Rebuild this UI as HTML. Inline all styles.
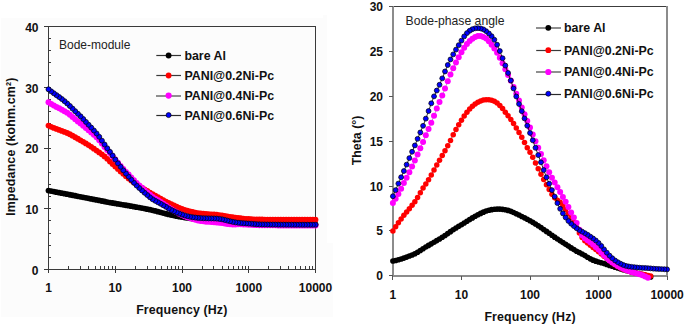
<!DOCTYPE html>
<html><head><meta charset="utf-8"><style>
html,body{margin:0;padding:0;background:#fff;}
body{width:685px;height:325px;overflow:hidden;}
svg{display:block;}
</style></head><body>
<svg width="685" height="325" viewBox="0 0 685 325">
<rect x="0" y="0" width="685" height="325" fill="#fff"/>
<path d="M1,18 H323 V15 H327 V243 H333 V317 H1 Z" fill="#fcfcfc"/>
<g shape-rendering="crispEdges" stroke="#3a3a3a" stroke-width="1" fill="none">
<rect x="48.5" y="26.5" width="267" height="243"/>
<line x1="44" y1="269.5" x2="51" y2="269.5"/>
<line x1="44" y1="208.5" x2="51" y2="208.5"/>
<line x1="44" y1="148.5" x2="51" y2="148.5"/>
<line x1="44" y1="87.5" x2="51" y2="87.5"/>
<line x1="44" y1="26.5" x2="51" y2="26.5"/>
<line x1="48" y1="257.5" x2="51" y2="257.5"/>
<line x1="48" y1="245.5" x2="51" y2="245.5"/>
<line x1="48" y1="233.5" x2="51" y2="233.5"/>
<line x1="48" y1="220.5" x2="51" y2="220.5"/>
<line x1="48" y1="196.5" x2="51" y2="196.5"/>
<line x1="48" y1="184.5" x2="51" y2="184.5"/>
<line x1="48" y1="172.5" x2="51" y2="172.5"/>
<line x1="48" y1="160.5" x2="51" y2="160.5"/>
<line x1="48" y1="135.5" x2="51" y2="135.5"/>
<line x1="48" y1="123.5" x2="51" y2="123.5"/>
<line x1="48" y1="111.5" x2="51" y2="111.5"/>
<line x1="48" y1="99.5" x2="51" y2="99.5"/>
<line x1="48" y1="75.5" x2="51" y2="75.5"/>
<line x1="48" y1="62.5" x2="51" y2="62.5"/>
<line x1="48" y1="50.5" x2="51" y2="50.5"/>
<line x1="48" y1="38.5" x2="51" y2="38.5"/>
<line x1="48.5" y1="266" x2="48.5" y2="273"/>
<line x1="68.5" y1="266" x2="68.5" y2="269"/>
<line x1="80.5" y1="266" x2="80.5" y2="269"/>
<line x1="88.5" y1="266" x2="88.5" y2="269"/>
<line x1="95.5" y1="266" x2="95.5" y2="269"/>
<line x1="100.5" y1="266" x2="100.5" y2="269"/>
<line x1="104.5" y1="266" x2="104.5" y2="269"/>
<line x1="108.5" y1="266" x2="108.5" y2="269"/>
<line x1="112.5" y1="266" x2="112.5" y2="269"/>
<line x1="115.5" y1="266" x2="115.5" y2="273"/>
<line x1="135.5" y1="266" x2="135.5" y2="269"/>
<line x1="147.5" y1="266" x2="147.5" y2="269"/>
<line x1="155.5" y1="266" x2="155.5" y2="269"/>
<line x1="161.5" y1="266" x2="161.5" y2="269"/>
<line x1="167.5" y1="266" x2="167.5" y2="269"/>
<line x1="171.5" y1="266" x2="171.5" y2="269"/>
<line x1="175.5" y1="266" x2="175.5" y2="269"/>
<line x1="178.5" y1="266" x2="178.5" y2="269"/>
<line x1="182.5" y1="266" x2="182.5" y2="273"/>
<line x1="202.5" y1="266" x2="202.5" y2="269"/>
<line x1="213.5" y1="266" x2="213.5" y2="269"/>
<line x1="222.5" y1="266" x2="222.5" y2="269"/>
<line x1="228.5" y1="266" x2="228.5" y2="269"/>
<line x1="233.5" y1="266" x2="233.5" y2="269"/>
<line x1="238.5" y1="266" x2="238.5" y2="269"/>
<line x1="242.5" y1="266" x2="242.5" y2="269"/>
<line x1="245.5" y1="266" x2="245.5" y2="269"/>
<line x1="248.5" y1="266" x2="248.5" y2="273"/>
<line x1="268.5" y1="266" x2="268.5" y2="269"/>
<line x1="280.5" y1="266" x2="280.5" y2="269"/>
<line x1="288.5" y1="266" x2="288.5" y2="269"/>
<line x1="295.5" y1="266" x2="295.5" y2="269"/>
<line x1="300.5" y1="266" x2="300.5" y2="269"/>
<line x1="305.5" y1="266" x2="305.5" y2="269"/>
<line x1="309.5" y1="266" x2="309.5" y2="269"/>
<line x1="312.5" y1="266" x2="312.5" y2="269"/>
<line x1="315.5" y1="266" x2="315.5" y2="273"/>
</g>
<clipPath id="cl"><rect x="44" y="20" width="280" height="252"/></clipPath>
<g>
<path d="M48.50,190.56 L51.17,191.08 L53.84,191.61 L56.51,192.13 L59.18,192.66 L61.85,193.18 L64.52,193.70 L67.19,194.22 L69.86,194.74 L72.53,195.25 L75.20,195.77 L77.87,196.29 L80.54,196.81 L83.21,197.32 L85.88,197.84 L88.55,198.36 L91.22,198.89 L93.89,199.41 L96.56,199.93 L99.23,200.46 L101.90,200.99 L104.57,201.51 L107.24,202.03 L109.91,202.53 L112.58,203.01 L115.25,203.47 L117.92,203.92 L120.59,204.36 L123.26,204.80 L125.93,205.26 L128.60,205.72 L131.27,206.18 L133.94,206.65 L136.61,207.13 L139.28,207.62 L141.95,208.11 L144.62,208.62 L147.29,209.13 L149.96,209.68 L152.63,210.28 L155.30,210.95 L157.97,211.65 L160.64,212.36 L163.31,213.05 L165.98,213.73 L168.65,214.39 L171.32,215.02 L173.99,215.60 L176.66,216.13 L179.33,216.64 L182.00,217.10 L184.67,217.53 L187.34,217.92 L190.01,218.30 L192.68,218.65 L195.35,218.98 L198.02,219.28 L200.69,219.57 L203.36,219.84 L206.03,220.10 L208.70,220.35 L211.37,220.59 L214.04,220.82 L216.71,221.04 L219.38,221.25 L222.05,221.46 L224.72,221.65 L227.39,221.83 L230.06,222.00 L232.73,222.17 L235.40,222.34 L238.07,222.50 L240.74,222.66 L243.41,222.81 L246.08,222.95 L248.75,223.09 L251.42,223.21 L254.09,223.32 L256.76,223.41 L259.43,223.48 L262.10,223.55 L264.77,223.61 L267.44,223.67 L270.11,223.72 L272.78,223.78 L275.45,223.83 L278.12,223.88 L280.79,223.93 L283.46,223.98 L286.13,224.02 L288.80,224.06 L291.47,224.10 L294.14,224.14 L296.81,224.17 L299.48,224.20 L302.15,224.22 L304.82,224.25 L307.49,224.27 L310.16,224.28 L312.83,224.29 L315.50,224.30" fill="none" stroke="#000" stroke-width="0.8"/>
<circle cx="315.50" cy="224.30" r="2.9" fill="#000"/>
<circle cx="312.83" cy="224.29" r="2.9" fill="#000"/>
<circle cx="310.16" cy="224.28" r="2.9" fill="#000"/>
<circle cx="307.49" cy="224.27" r="2.9" fill="#000"/>
<circle cx="304.82" cy="224.25" r="2.9" fill="#000"/>
<circle cx="302.15" cy="224.22" r="2.9" fill="#000"/>
<circle cx="299.48" cy="224.20" r="2.9" fill="#000"/>
<circle cx="296.81" cy="224.17" r="2.9" fill="#000"/>
<circle cx="294.14" cy="224.14" r="2.9" fill="#000"/>
<circle cx="291.47" cy="224.10" r="2.9" fill="#000"/>
<circle cx="288.80" cy="224.06" r="2.9" fill="#000"/>
<circle cx="286.13" cy="224.02" r="2.9" fill="#000"/>
<circle cx="283.46" cy="223.98" r="2.9" fill="#000"/>
<circle cx="280.79" cy="223.93" r="2.9" fill="#000"/>
<circle cx="278.12" cy="223.88" r="2.9" fill="#000"/>
<circle cx="275.45" cy="223.83" r="2.9" fill="#000"/>
<circle cx="272.78" cy="223.78" r="2.9" fill="#000"/>
<circle cx="270.11" cy="223.72" r="2.9" fill="#000"/>
<circle cx="267.44" cy="223.67" r="2.9" fill="#000"/>
<circle cx="264.77" cy="223.61" r="2.9" fill="#000"/>
<circle cx="262.10" cy="223.55" r="2.9" fill="#000"/>
<circle cx="259.43" cy="223.48" r="2.9" fill="#000"/>
<circle cx="256.76" cy="223.41" r="2.9" fill="#000"/>
<circle cx="254.09" cy="223.32" r="2.9" fill="#000"/>
<circle cx="251.42" cy="223.21" r="2.9" fill="#000"/>
<circle cx="248.75" cy="223.09" r="2.9" fill="#000"/>
<circle cx="246.08" cy="222.95" r="2.9" fill="#000"/>
<circle cx="243.41" cy="222.81" r="2.9" fill="#000"/>
<circle cx="240.74" cy="222.66" r="2.9" fill="#000"/>
<circle cx="238.07" cy="222.50" r="2.9" fill="#000"/>
<circle cx="235.40" cy="222.34" r="2.9" fill="#000"/>
<circle cx="232.73" cy="222.17" r="2.9" fill="#000"/>
<circle cx="230.06" cy="222.00" r="2.9" fill="#000"/>
<circle cx="227.39" cy="221.83" r="2.9" fill="#000"/>
<circle cx="224.72" cy="221.65" r="2.9" fill="#000"/>
<circle cx="222.05" cy="221.46" r="2.9" fill="#000"/>
<circle cx="219.38" cy="221.25" r="2.9" fill="#000"/>
<circle cx="216.71" cy="221.04" r="2.9" fill="#000"/>
<circle cx="214.04" cy="220.82" r="2.9" fill="#000"/>
<circle cx="211.37" cy="220.59" r="2.9" fill="#000"/>
<circle cx="208.70" cy="220.35" r="2.9" fill="#000"/>
<circle cx="206.03" cy="220.10" r="2.9" fill="#000"/>
<circle cx="203.36" cy="219.84" r="2.9" fill="#000"/>
<circle cx="200.69" cy="219.57" r="2.9" fill="#000"/>
<circle cx="198.02" cy="219.28" r="2.9" fill="#000"/>
<circle cx="195.35" cy="218.98" r="2.9" fill="#000"/>
<circle cx="192.68" cy="218.65" r="2.9" fill="#000"/>
<circle cx="190.01" cy="218.30" r="2.9" fill="#000"/>
<circle cx="187.34" cy="217.92" r="2.9" fill="#000"/>
<circle cx="184.67" cy="217.53" r="2.9" fill="#000"/>
<circle cx="182.00" cy="217.10" r="2.9" fill="#000"/>
<circle cx="179.33" cy="216.64" r="2.9" fill="#000"/>
<circle cx="176.66" cy="216.13" r="2.9" fill="#000"/>
<circle cx="173.99" cy="215.60" r="2.9" fill="#000"/>
<circle cx="171.32" cy="215.02" r="2.9" fill="#000"/>
<circle cx="168.65" cy="214.39" r="2.9" fill="#000"/>
<circle cx="165.98" cy="213.73" r="2.9" fill="#000"/>
<circle cx="163.31" cy="213.05" r="2.9" fill="#000"/>
<circle cx="160.64" cy="212.36" r="2.9" fill="#000"/>
<circle cx="157.97" cy="211.65" r="2.9" fill="#000"/>
<circle cx="155.30" cy="210.95" r="2.9" fill="#000"/>
<circle cx="152.63" cy="210.28" r="2.9" fill="#000"/>
<circle cx="149.96" cy="209.68" r="2.9" fill="#000"/>
<circle cx="147.29" cy="209.13" r="2.9" fill="#000"/>
<circle cx="144.62" cy="208.62" r="2.9" fill="#000"/>
<circle cx="141.95" cy="208.11" r="2.9" fill="#000"/>
<circle cx="139.28" cy="207.62" r="2.9" fill="#000"/>
<circle cx="136.61" cy="207.13" r="2.9" fill="#000"/>
<circle cx="133.94" cy="206.65" r="2.9" fill="#000"/>
<circle cx="131.27" cy="206.18" r="2.9" fill="#000"/>
<circle cx="128.60" cy="205.72" r="2.9" fill="#000"/>
<circle cx="125.93" cy="205.26" r="2.9" fill="#000"/>
<circle cx="123.26" cy="204.80" r="2.9" fill="#000"/>
<circle cx="120.59" cy="204.36" r="2.9" fill="#000"/>
<circle cx="117.92" cy="203.92" r="2.9" fill="#000"/>
<circle cx="115.25" cy="203.47" r="2.9" fill="#000"/>
<circle cx="112.58" cy="203.01" r="2.9" fill="#000"/>
<circle cx="109.91" cy="202.53" r="2.9" fill="#000"/>
<circle cx="107.24" cy="202.03" r="2.9" fill="#000"/>
<circle cx="104.57" cy="201.51" r="2.9" fill="#000"/>
<circle cx="101.90" cy="200.99" r="2.9" fill="#000"/>
<circle cx="99.23" cy="200.46" r="2.9" fill="#000"/>
<circle cx="96.56" cy="199.93" r="2.9" fill="#000"/>
<circle cx="93.89" cy="199.41" r="2.9" fill="#000"/>
<circle cx="91.22" cy="198.89" r="2.9" fill="#000"/>
<circle cx="88.55" cy="198.36" r="2.9" fill="#000"/>
<circle cx="85.88" cy="197.84" r="2.9" fill="#000"/>
<circle cx="83.21" cy="197.32" r="2.9" fill="#000"/>
<circle cx="80.54" cy="196.81" r="2.9" fill="#000"/>
<circle cx="77.87" cy="196.29" r="2.9" fill="#000"/>
<circle cx="75.20" cy="195.77" r="2.9" fill="#000"/>
<circle cx="72.53" cy="195.25" r="2.9" fill="#000"/>
<circle cx="69.86" cy="194.74" r="2.9" fill="#000"/>
<circle cx="67.19" cy="194.22" r="2.9" fill="#000"/>
<circle cx="64.52" cy="193.70" r="2.9" fill="#000"/>
<circle cx="61.85" cy="193.18" r="2.9" fill="#000"/>
<circle cx="59.18" cy="192.66" r="2.9" fill="#000"/>
<circle cx="56.51" cy="192.13" r="2.9" fill="#000"/>
<circle cx="53.84" cy="191.61" r="2.9" fill="#000"/>
<circle cx="51.17" cy="191.08" r="2.9" fill="#000"/>
<circle cx="48.50" cy="190.56" r="2.9" fill="#000"/>
<path d="M48.50,125.59 L51.17,126.80 L53.84,127.92 L56.51,128.94 L59.18,129.92 L61.85,130.94 L64.52,131.97 L67.19,133.01 L69.86,134.24 L72.53,135.71 L75.20,137.24 L77.87,138.75 L80.54,140.28 L83.21,141.84 L85.88,143.44 L88.55,145.09 L91.22,146.82 L93.89,148.66 L96.56,150.55 L99.23,152.41 L101.90,154.28 L104.57,156.38 L107.24,158.85 L109.91,161.53 L112.58,164.10 L115.25,166.53 L117.92,168.95 L120.59,171.40 L123.26,173.79 L125.93,176.14 L128.60,178.45 L131.27,180.60 L133.94,182.56 L136.61,184.34 L139.28,185.98 L141.95,187.60 L144.62,189.29 L147.29,191.00 L149.96,192.66 L152.63,194.22 L155.30,195.73 L157.97,197.21 L160.64,198.71 L163.31,200.18 L165.98,201.60 L168.65,202.95 L171.32,204.22 L173.99,205.43 L176.66,206.61 L179.33,207.80 L182.00,208.93 L184.67,209.89 L187.34,210.69 L190.01,211.39 L192.68,212.01 L195.35,212.57 L198.02,213.05 L200.69,213.41 L203.36,213.68 L206.03,213.89 L208.70,214.08 L211.37,214.28 L214.04,214.49 L216.71,214.76 L219.38,215.11 L222.05,215.51 L224.72,215.95 L227.39,216.38 L230.06,216.79 L232.73,217.17 L235.40,217.54 L238.07,217.91 L240.74,218.25 L243.41,218.54 L246.08,218.78 L248.75,218.98 L251.42,219.15 L254.09,219.30 L256.76,219.42 L259.43,219.48 L262.10,219.52 L264.77,219.54 L267.44,219.55 L270.11,219.57 L272.78,219.59 L275.45,219.60 L278.12,219.61 L280.79,219.63 L283.46,219.64 L286.13,219.65 L288.80,219.66 L291.47,219.66 L294.14,219.67 L296.81,219.68 L299.48,219.68 L302.15,219.69 L304.82,219.69 L307.49,219.69 L310.16,219.70 L312.83,219.70 L315.50,219.70" fill="none" stroke="#ff0000" stroke-width="0.8"/>
<circle cx="315.50" cy="219.70" r="2.9" fill="#ff0000"/>
<circle cx="312.83" cy="219.70" r="2.9" fill="#ff0000"/>
<circle cx="310.16" cy="219.70" r="2.9" fill="#ff0000"/>
<circle cx="307.49" cy="219.69" r="2.9" fill="#ff0000"/>
<circle cx="304.82" cy="219.69" r="2.9" fill="#ff0000"/>
<circle cx="302.15" cy="219.69" r="2.9" fill="#ff0000"/>
<circle cx="299.48" cy="219.68" r="2.9" fill="#ff0000"/>
<circle cx="296.81" cy="219.68" r="2.9" fill="#ff0000"/>
<circle cx="294.14" cy="219.67" r="2.9" fill="#ff0000"/>
<circle cx="291.47" cy="219.66" r="2.9" fill="#ff0000"/>
<circle cx="288.80" cy="219.66" r="2.9" fill="#ff0000"/>
<circle cx="286.13" cy="219.65" r="2.9" fill="#ff0000"/>
<circle cx="283.46" cy="219.64" r="2.9" fill="#ff0000"/>
<circle cx="280.79" cy="219.63" r="2.9" fill="#ff0000"/>
<circle cx="278.12" cy="219.61" r="2.9" fill="#ff0000"/>
<circle cx="275.45" cy="219.60" r="2.9" fill="#ff0000"/>
<circle cx="272.78" cy="219.59" r="2.9" fill="#ff0000"/>
<circle cx="270.11" cy="219.57" r="2.9" fill="#ff0000"/>
<circle cx="267.44" cy="219.55" r="2.9" fill="#ff0000"/>
<circle cx="264.77" cy="219.54" r="2.9" fill="#ff0000"/>
<circle cx="262.10" cy="219.52" r="2.9" fill="#ff0000"/>
<circle cx="259.43" cy="219.48" r="2.9" fill="#ff0000"/>
<circle cx="256.76" cy="219.42" r="2.9" fill="#ff0000"/>
<circle cx="254.09" cy="219.30" r="2.9" fill="#ff0000"/>
<circle cx="251.42" cy="219.15" r="2.9" fill="#ff0000"/>
<circle cx="248.75" cy="218.98" r="2.9" fill="#ff0000"/>
<circle cx="246.08" cy="218.78" r="2.9" fill="#ff0000"/>
<circle cx="243.41" cy="218.54" r="2.9" fill="#ff0000"/>
<circle cx="240.74" cy="218.25" r="2.9" fill="#ff0000"/>
<circle cx="238.07" cy="217.91" r="2.9" fill="#ff0000"/>
<circle cx="235.40" cy="217.54" r="2.9" fill="#ff0000"/>
<circle cx="232.73" cy="217.17" r="2.9" fill="#ff0000"/>
<circle cx="230.06" cy="216.79" r="2.9" fill="#ff0000"/>
<circle cx="227.39" cy="216.38" r="2.9" fill="#ff0000"/>
<circle cx="224.72" cy="215.95" r="2.9" fill="#ff0000"/>
<circle cx="222.05" cy="215.51" r="2.9" fill="#ff0000"/>
<circle cx="219.38" cy="215.11" r="2.9" fill="#ff0000"/>
<circle cx="216.71" cy="214.76" r="2.9" fill="#ff0000"/>
<circle cx="214.04" cy="214.49" r="2.9" fill="#ff0000"/>
<circle cx="211.37" cy="214.28" r="2.9" fill="#ff0000"/>
<circle cx="208.70" cy="214.08" r="2.9" fill="#ff0000"/>
<circle cx="206.03" cy="213.89" r="2.9" fill="#ff0000"/>
<circle cx="203.36" cy="213.68" r="2.9" fill="#ff0000"/>
<circle cx="200.69" cy="213.41" r="2.9" fill="#ff0000"/>
<circle cx="198.02" cy="213.05" r="2.9" fill="#ff0000"/>
<circle cx="195.35" cy="212.57" r="2.9" fill="#ff0000"/>
<circle cx="192.68" cy="212.01" r="2.9" fill="#ff0000"/>
<circle cx="190.01" cy="211.39" r="2.9" fill="#ff0000"/>
<circle cx="187.34" cy="210.69" r="2.9" fill="#ff0000"/>
<circle cx="184.67" cy="209.89" r="2.9" fill="#ff0000"/>
<circle cx="182.00" cy="208.93" r="2.9" fill="#ff0000"/>
<circle cx="179.33" cy="207.80" r="2.9" fill="#ff0000"/>
<circle cx="176.66" cy="206.61" r="2.9" fill="#ff0000"/>
<circle cx="173.99" cy="205.43" r="2.9" fill="#ff0000"/>
<circle cx="171.32" cy="204.22" r="2.9" fill="#ff0000"/>
<circle cx="168.65" cy="202.95" r="2.9" fill="#ff0000"/>
<circle cx="165.98" cy="201.60" r="2.9" fill="#ff0000"/>
<circle cx="163.31" cy="200.18" r="2.9" fill="#ff0000"/>
<circle cx="160.64" cy="198.71" r="2.9" fill="#ff0000"/>
<circle cx="157.97" cy="197.21" r="2.9" fill="#ff0000"/>
<circle cx="155.30" cy="195.73" r="2.9" fill="#ff0000"/>
<circle cx="152.63" cy="194.22" r="2.9" fill="#ff0000"/>
<circle cx="149.96" cy="192.66" r="2.9" fill="#ff0000"/>
<circle cx="147.29" cy="191.00" r="2.9" fill="#ff0000"/>
<circle cx="144.62" cy="189.29" r="2.9" fill="#ff0000"/>
<circle cx="141.95" cy="187.60" r="2.9" fill="#ff0000"/>
<circle cx="139.28" cy="185.98" r="2.9" fill="#ff0000"/>
<circle cx="136.61" cy="184.34" r="2.9" fill="#ff0000"/>
<circle cx="133.94" cy="182.56" r="2.9" fill="#ff0000"/>
<circle cx="131.27" cy="180.60" r="2.9" fill="#ff0000"/>
<circle cx="128.60" cy="178.45" r="2.9" fill="#ff0000"/>
<circle cx="125.93" cy="176.14" r="2.9" fill="#ff0000"/>
<circle cx="123.26" cy="173.79" r="2.9" fill="#ff0000"/>
<circle cx="120.59" cy="171.40" r="2.9" fill="#ff0000"/>
<circle cx="117.92" cy="168.95" r="2.9" fill="#ff0000"/>
<circle cx="115.25" cy="166.53" r="2.9" fill="#ff0000"/>
<circle cx="112.58" cy="164.10" r="2.9" fill="#ff0000"/>
<circle cx="109.91" cy="161.53" r="2.9" fill="#ff0000"/>
<circle cx="107.24" cy="158.85" r="2.9" fill="#ff0000"/>
<circle cx="104.57" cy="156.38" r="2.9" fill="#ff0000"/>
<circle cx="101.90" cy="154.28" r="2.9" fill="#ff0000"/>
<circle cx="99.23" cy="152.41" r="2.9" fill="#ff0000"/>
<circle cx="96.56" cy="150.55" r="2.9" fill="#ff0000"/>
<circle cx="93.89" cy="148.66" r="2.9" fill="#ff0000"/>
<circle cx="91.22" cy="146.82" r="2.9" fill="#ff0000"/>
<circle cx="88.55" cy="145.09" r="2.9" fill="#ff0000"/>
<circle cx="85.88" cy="143.44" r="2.9" fill="#ff0000"/>
<circle cx="83.21" cy="141.84" r="2.9" fill="#ff0000"/>
<circle cx="80.54" cy="140.28" r="2.9" fill="#ff0000"/>
<circle cx="77.87" cy="138.75" r="2.9" fill="#ff0000"/>
<circle cx="75.20" cy="137.24" r="2.9" fill="#ff0000"/>
<circle cx="72.53" cy="135.71" r="2.9" fill="#ff0000"/>
<circle cx="69.86" cy="134.24" r="2.9" fill="#ff0000"/>
<circle cx="67.19" cy="133.01" r="2.9" fill="#ff0000"/>
<circle cx="64.52" cy="131.97" r="2.9" fill="#ff0000"/>
<circle cx="61.85" cy="130.94" r="2.9" fill="#ff0000"/>
<circle cx="59.18" cy="129.92" r="2.9" fill="#ff0000"/>
<circle cx="56.51" cy="128.94" r="2.9" fill="#ff0000"/>
<circle cx="53.84" cy="127.92" r="2.9" fill="#ff0000"/>
<circle cx="51.17" cy="126.80" r="2.9" fill="#ff0000"/>
<circle cx="48.50" cy="125.59" r="2.9" fill="#ff0000"/>
<path d="M48.50,102.36 L51.17,103.94 L53.84,105.44 L56.51,106.92 L59.18,108.37 L61.85,109.74 L64.52,111.19 L67.19,112.85 L69.86,114.75 L72.53,116.94 L75.20,119.26 L77.87,121.45 L80.54,123.53 L83.21,125.66 L85.88,127.91 L88.55,130.18 L91.22,132.44 L93.89,134.73 L96.56,137.23 L99.23,140.15 L101.90,143.49 L104.57,146.91 L107.24,150.12 L109.91,153.08 L112.58,156.16 L115.25,159.52 L117.92,162.83 L120.59,165.98 L123.26,169.05 L125.93,171.89 L128.60,174.62 L131.27,177.46 L133.94,180.35 L136.61,183.03 L139.28,185.47 L141.95,187.85 L144.62,190.26 L147.29,192.60 L149.96,194.85 L152.63,196.91 L155.30,198.68 L157.97,200.32 L160.64,202.02 L163.31,203.80 L165.98,205.62 L168.65,207.45 L171.32,209.18 L173.99,210.77 L176.66,212.28 L179.33,213.71 L182.00,215.02 L184.67,216.20 L187.34,217.21 L190.01,218.10 L192.68,218.95 L195.35,219.79 L198.02,220.49 L200.69,221.01 L203.36,221.37 L206.03,221.63 L208.70,221.84 L211.37,222.03 L214.04,222.23 L216.71,222.46 L219.38,222.74 L222.05,223.10 L224.72,223.58 L227.39,224.05 L230.06,224.32 L232.73,224.39 L235.40,224.38 L238.07,224.34 L240.74,224.33 L243.41,224.40 L246.08,224.54 L248.75,224.68 L251.42,224.82 L254.09,224.96 L256.76,225.07 L259.43,225.16 L262.10,225.22 L264.77,225.25 L267.44,225.27 L270.11,225.30 L272.78,225.33 L275.45,225.35 L278.12,225.38 L280.79,225.41 L283.46,225.43 L286.13,225.46 L288.80,225.49 L291.47,225.50 L294.14,225.51 L296.81,225.52 L299.48,225.53 L302.15,225.54 L304.82,225.55 L307.49,225.56 L310.16,225.57 L312.83,225.58 L315.50,225.59" fill="none" stroke="#ff00ff" stroke-width="0.8"/>
<circle cx="315.50" cy="225.59" r="3.0" fill="#ff00ff"/>
<circle cx="312.83" cy="225.58" r="3.0" fill="#ff00ff"/>
<circle cx="310.16" cy="225.57" r="3.0" fill="#ff00ff"/>
<circle cx="307.49" cy="225.56" r="3.0" fill="#ff00ff"/>
<circle cx="304.82" cy="225.55" r="3.0" fill="#ff00ff"/>
<circle cx="302.15" cy="225.54" r="3.0" fill="#ff00ff"/>
<circle cx="299.48" cy="225.53" r="3.0" fill="#ff00ff"/>
<circle cx="296.81" cy="225.52" r="3.0" fill="#ff00ff"/>
<circle cx="294.14" cy="225.51" r="3.0" fill="#ff00ff"/>
<circle cx="291.47" cy="225.50" r="3.0" fill="#ff00ff"/>
<circle cx="288.80" cy="225.49" r="3.0" fill="#ff00ff"/>
<circle cx="286.13" cy="225.46" r="3.0" fill="#ff00ff"/>
<circle cx="283.46" cy="225.43" r="3.0" fill="#ff00ff"/>
<circle cx="280.79" cy="225.41" r="3.0" fill="#ff00ff"/>
<circle cx="278.12" cy="225.38" r="3.0" fill="#ff00ff"/>
<circle cx="275.45" cy="225.35" r="3.0" fill="#ff00ff"/>
<circle cx="272.78" cy="225.33" r="3.0" fill="#ff00ff"/>
<circle cx="270.11" cy="225.30" r="3.0" fill="#ff00ff"/>
<circle cx="267.44" cy="225.27" r="3.0" fill="#ff00ff"/>
<circle cx="264.77" cy="225.25" r="3.0" fill="#ff00ff"/>
<circle cx="262.10" cy="225.22" r="3.0" fill="#ff00ff"/>
<circle cx="259.43" cy="225.16" r="3.0" fill="#ff00ff"/>
<circle cx="256.76" cy="225.07" r="3.0" fill="#ff00ff"/>
<circle cx="254.09" cy="224.96" r="3.0" fill="#ff00ff"/>
<circle cx="251.42" cy="224.82" r="3.0" fill="#ff00ff"/>
<circle cx="248.75" cy="224.68" r="3.0" fill="#ff00ff"/>
<circle cx="246.08" cy="224.54" r="3.0" fill="#ff00ff"/>
<circle cx="243.41" cy="224.40" r="3.0" fill="#ff00ff"/>
<circle cx="240.74" cy="224.33" r="3.0" fill="#ff00ff"/>
<circle cx="238.07" cy="224.34" r="3.0" fill="#ff00ff"/>
<circle cx="235.40" cy="224.38" r="3.0" fill="#ff00ff"/>
<circle cx="232.73" cy="224.39" r="3.0" fill="#ff00ff"/>
<circle cx="230.06" cy="224.32" r="3.0" fill="#ff00ff"/>
<circle cx="227.39" cy="224.05" r="3.0" fill="#ff00ff"/>
<circle cx="224.72" cy="223.58" r="3.0" fill="#ff00ff"/>
<circle cx="222.05" cy="223.10" r="3.0" fill="#ff00ff"/>
<circle cx="219.38" cy="222.74" r="3.0" fill="#ff00ff"/>
<circle cx="216.71" cy="222.46" r="3.0" fill="#ff00ff"/>
<circle cx="214.04" cy="222.23" r="3.0" fill="#ff00ff"/>
<circle cx="211.37" cy="222.03" r="3.0" fill="#ff00ff"/>
<circle cx="208.70" cy="221.84" r="3.0" fill="#ff00ff"/>
<circle cx="206.03" cy="221.63" r="3.0" fill="#ff00ff"/>
<circle cx="203.36" cy="221.37" r="3.0" fill="#ff00ff"/>
<circle cx="200.69" cy="221.01" r="3.0" fill="#ff00ff"/>
<circle cx="198.02" cy="220.49" r="3.0" fill="#ff00ff"/>
<circle cx="195.35" cy="219.79" r="3.0" fill="#ff00ff"/>
<circle cx="192.68" cy="218.95" r="3.0" fill="#ff00ff"/>
<circle cx="190.01" cy="218.10" r="3.0" fill="#ff00ff"/>
<circle cx="187.34" cy="217.21" r="3.0" fill="#ff00ff"/>
<circle cx="184.67" cy="216.20" r="3.0" fill="#ff00ff"/>
<circle cx="182.00" cy="215.02" r="3.0" fill="#ff00ff"/>
<circle cx="179.33" cy="213.71" r="3.0" fill="#ff00ff"/>
<circle cx="176.66" cy="212.28" r="3.0" fill="#ff00ff"/>
<circle cx="173.99" cy="210.77" r="3.0" fill="#ff00ff"/>
<circle cx="171.32" cy="209.18" r="3.0" fill="#ff00ff"/>
<circle cx="168.65" cy="207.45" r="3.0" fill="#ff00ff"/>
<circle cx="165.98" cy="205.62" r="3.0" fill="#ff00ff"/>
<circle cx="163.31" cy="203.80" r="3.0" fill="#ff00ff"/>
<circle cx="160.64" cy="202.02" r="3.0" fill="#ff00ff"/>
<circle cx="157.97" cy="200.32" r="3.0" fill="#ff00ff"/>
<circle cx="155.30" cy="198.68" r="3.0" fill="#ff00ff"/>
<circle cx="152.63" cy="196.91" r="3.0" fill="#ff00ff"/>
<circle cx="149.96" cy="194.85" r="3.0" fill="#ff00ff"/>
<circle cx="147.29" cy="192.60" r="3.0" fill="#ff00ff"/>
<circle cx="144.62" cy="190.26" r="3.0" fill="#ff00ff"/>
<circle cx="141.95" cy="187.85" r="3.0" fill="#ff00ff"/>
<circle cx="139.28" cy="185.47" r="3.0" fill="#ff00ff"/>
<circle cx="136.61" cy="183.03" r="3.0" fill="#ff00ff"/>
<circle cx="133.94" cy="180.35" r="3.0" fill="#ff00ff"/>
<circle cx="131.27" cy="177.46" r="3.0" fill="#ff00ff"/>
<circle cx="128.60" cy="174.62" r="3.0" fill="#ff00ff"/>
<circle cx="125.93" cy="171.89" r="3.0" fill="#ff00ff"/>
<circle cx="123.26" cy="169.05" r="3.0" fill="#ff00ff"/>
<circle cx="120.59" cy="165.98" r="3.0" fill="#ff00ff"/>
<circle cx="117.92" cy="162.83" r="3.0" fill="#ff00ff"/>
<circle cx="115.25" cy="159.52" r="3.0" fill="#ff00ff"/>
<circle cx="112.58" cy="156.16" r="3.0" fill="#ff00ff"/>
<circle cx="109.91" cy="153.08" r="3.0" fill="#ff00ff"/>
<circle cx="107.24" cy="150.12" r="3.0" fill="#ff00ff"/>
<circle cx="104.57" cy="146.91" r="3.0" fill="#ff00ff"/>
<circle cx="101.90" cy="143.49" r="3.0" fill="#ff00ff"/>
<circle cx="99.23" cy="140.15" r="3.0" fill="#ff00ff"/>
<circle cx="96.56" cy="137.23" r="3.0" fill="#ff00ff"/>
<circle cx="93.89" cy="134.73" r="3.0" fill="#ff00ff"/>
<circle cx="91.22" cy="132.44" r="3.0" fill="#ff00ff"/>
<circle cx="88.55" cy="130.18" r="3.0" fill="#ff00ff"/>
<circle cx="85.88" cy="127.91" r="3.0" fill="#ff00ff"/>
<circle cx="83.21" cy="125.66" r="3.0" fill="#ff00ff"/>
<circle cx="80.54" cy="123.53" r="3.0" fill="#ff00ff"/>
<circle cx="77.87" cy="121.45" r="3.0" fill="#ff00ff"/>
<circle cx="75.20" cy="119.26" r="3.0" fill="#ff00ff"/>
<circle cx="72.53" cy="116.94" r="3.0" fill="#ff00ff"/>
<circle cx="69.86" cy="114.75" r="3.0" fill="#ff00ff"/>
<circle cx="67.19" cy="112.85" r="3.0" fill="#ff00ff"/>
<circle cx="64.52" cy="111.19" r="3.0" fill="#ff00ff"/>
<circle cx="61.85" cy="109.74" r="3.0" fill="#ff00ff"/>
<circle cx="59.18" cy="108.37" r="3.0" fill="#ff00ff"/>
<circle cx="56.51" cy="106.92" r="3.0" fill="#ff00ff"/>
<circle cx="53.84" cy="105.44" r="3.0" fill="#ff00ff"/>
<circle cx="51.17" cy="103.94" r="3.0" fill="#ff00ff"/>
<circle cx="48.50" cy="102.36" r="3.0" fill="#ff00ff"/>
<path d="M48.50,89.30 L51.17,91.37 L53.84,93.27 L56.51,95.13 L59.18,97.08 L61.85,99.02 L64.52,101.13 L67.19,103.48 L69.86,105.97 L72.53,108.58 L75.20,111.21 L77.87,113.75 L80.54,116.31 L83.21,119.03 L85.88,121.88 L88.55,124.75 L91.22,127.62 L93.89,130.49 L96.56,133.45 L99.23,136.83 L101.90,140.64 L104.57,144.51 L107.24,148.27 L109.91,151.84 L112.58,155.51 L115.25,159.48 L117.92,163.25 L120.59,166.78 L123.26,170.27 L125.93,173.54 L128.60,176.60 L131.27,179.69 L133.94,182.72 L136.61,185.52 L139.28,188.03 L141.95,190.41 L144.62,192.78 L147.29,195.06 L149.96,197.25 L152.63,199.22 L155.30,200.83 L157.97,202.25 L160.64,203.72 L163.31,205.26 L165.98,206.84 L168.65,208.42 L171.32,209.88 L173.99,211.18 L176.66,212.39 L179.33,213.53 L182.00,214.56 L184.67,215.43 L187.34,216.15 L190.01,216.74 L192.68,217.22 L195.35,217.60 L198.02,217.88 L200.69,218.09 L203.36,218.24 L206.03,218.33 L208.70,218.38 L211.37,218.42 L214.04,218.48 L216.71,218.62 L219.38,218.92 L222.05,219.34 L224.72,219.90 L227.39,220.60 L230.06,221.29 L232.73,221.87 L235.40,222.35 L238.07,222.72 L240.74,222.99 L243.41,223.20 L246.08,223.40 L248.75,223.61 L251.42,223.82 L254.09,224.02 L256.76,224.22 L259.43,224.36 L262.10,224.44 L264.77,224.48 L267.44,224.52 L270.11,224.56 L272.78,224.59 L275.45,224.61 L278.12,224.63 L280.79,224.65 L283.46,224.67 L286.13,224.68 L288.80,224.69 L291.47,224.71 L294.14,224.72 L296.81,224.73 L299.48,224.75 L302.15,224.76 L304.82,224.77 L307.49,224.78 L310.16,224.79 L312.83,224.79 L315.50,224.80" fill="none" stroke="#000" stroke-width="0.8"/>
<circle cx="315.50" cy="224.80" r="2.5" fill="#0000ff" stroke="#000010" stroke-width="0.75"/>
<circle cx="312.83" cy="224.79" r="2.5" fill="#0000ff" stroke="#000010" stroke-width="0.75"/>
<circle cx="310.16" cy="224.79" r="2.5" fill="#0000ff" stroke="#000010" stroke-width="0.75"/>
<circle cx="307.49" cy="224.78" r="2.5" fill="#0000ff" stroke="#000010" stroke-width="0.75"/>
<circle cx="304.82" cy="224.77" r="2.5" fill="#0000ff" stroke="#000010" stroke-width="0.75"/>
<circle cx="302.15" cy="224.76" r="2.5" fill="#0000ff" stroke="#000010" stroke-width="0.75"/>
<circle cx="299.48" cy="224.75" r="2.5" fill="#0000ff" stroke="#000010" stroke-width="0.75"/>
<circle cx="296.81" cy="224.73" r="2.5" fill="#0000ff" stroke="#000010" stroke-width="0.75"/>
<circle cx="294.14" cy="224.72" r="2.5" fill="#0000ff" stroke="#000010" stroke-width="0.75"/>
<circle cx="291.47" cy="224.71" r="2.5" fill="#0000ff" stroke="#000010" stroke-width="0.75"/>
<circle cx="288.80" cy="224.69" r="2.5" fill="#0000ff" stroke="#000010" stroke-width="0.75"/>
<circle cx="286.13" cy="224.68" r="2.5" fill="#0000ff" stroke="#000010" stroke-width="0.75"/>
<circle cx="283.46" cy="224.67" r="2.5" fill="#0000ff" stroke="#000010" stroke-width="0.75"/>
<circle cx="280.79" cy="224.65" r="2.5" fill="#0000ff" stroke="#000010" stroke-width="0.75"/>
<circle cx="278.12" cy="224.63" r="2.5" fill="#0000ff" stroke="#000010" stroke-width="0.75"/>
<circle cx="275.45" cy="224.61" r="2.5" fill="#0000ff" stroke="#000010" stroke-width="0.75"/>
<circle cx="272.78" cy="224.59" r="2.5" fill="#0000ff" stroke="#000010" stroke-width="0.75"/>
<circle cx="270.11" cy="224.56" r="2.5" fill="#0000ff" stroke="#000010" stroke-width="0.75"/>
<circle cx="267.44" cy="224.52" r="2.5" fill="#0000ff" stroke="#000010" stroke-width="0.75"/>
<circle cx="264.77" cy="224.48" r="2.5" fill="#0000ff" stroke="#000010" stroke-width="0.75"/>
<circle cx="262.10" cy="224.44" r="2.5" fill="#0000ff" stroke="#000010" stroke-width="0.75"/>
<circle cx="259.43" cy="224.36" r="2.5" fill="#0000ff" stroke="#000010" stroke-width="0.75"/>
<circle cx="256.76" cy="224.22" r="2.5" fill="#0000ff" stroke="#000010" stroke-width="0.75"/>
<circle cx="254.09" cy="224.02" r="2.5" fill="#0000ff" stroke="#000010" stroke-width="0.75"/>
<circle cx="251.42" cy="223.82" r="2.5" fill="#0000ff" stroke="#000010" stroke-width="0.75"/>
<circle cx="248.75" cy="223.61" r="2.5" fill="#0000ff" stroke="#000010" stroke-width="0.75"/>
<circle cx="246.08" cy="223.40" r="2.5" fill="#0000ff" stroke="#000010" stroke-width="0.75"/>
<circle cx="243.41" cy="223.20" r="2.5" fill="#0000ff" stroke="#000010" stroke-width="0.75"/>
<circle cx="240.74" cy="222.99" r="2.5" fill="#0000ff" stroke="#000010" stroke-width="0.75"/>
<circle cx="238.07" cy="222.72" r="2.5" fill="#0000ff" stroke="#000010" stroke-width="0.75"/>
<circle cx="235.40" cy="222.35" r="2.5" fill="#0000ff" stroke="#000010" stroke-width="0.75"/>
<circle cx="232.73" cy="221.87" r="2.5" fill="#0000ff" stroke="#000010" stroke-width="0.75"/>
<circle cx="230.06" cy="221.29" r="2.5" fill="#0000ff" stroke="#000010" stroke-width="0.75"/>
<circle cx="227.39" cy="220.60" r="2.5" fill="#0000ff" stroke="#000010" stroke-width="0.75"/>
<circle cx="224.72" cy="219.90" r="2.5" fill="#0000ff" stroke="#000010" stroke-width="0.75"/>
<circle cx="222.05" cy="219.34" r="2.5" fill="#0000ff" stroke="#000010" stroke-width="0.75"/>
<circle cx="219.38" cy="218.92" r="2.5" fill="#0000ff" stroke="#000010" stroke-width="0.75"/>
<circle cx="216.71" cy="218.62" r="2.5" fill="#0000ff" stroke="#000010" stroke-width="0.75"/>
<circle cx="214.04" cy="218.48" r="2.5" fill="#0000ff" stroke="#000010" stroke-width="0.75"/>
<circle cx="211.37" cy="218.42" r="2.5" fill="#0000ff" stroke="#000010" stroke-width="0.75"/>
<circle cx="208.70" cy="218.38" r="2.5" fill="#0000ff" stroke="#000010" stroke-width="0.75"/>
<circle cx="206.03" cy="218.33" r="2.5" fill="#0000ff" stroke="#000010" stroke-width="0.75"/>
<circle cx="203.36" cy="218.24" r="2.5" fill="#0000ff" stroke="#000010" stroke-width="0.75"/>
<circle cx="200.69" cy="218.09" r="2.5" fill="#0000ff" stroke="#000010" stroke-width="0.75"/>
<circle cx="198.02" cy="217.88" r="2.5" fill="#0000ff" stroke="#000010" stroke-width="0.75"/>
<circle cx="195.35" cy="217.60" r="2.5" fill="#0000ff" stroke="#000010" stroke-width="0.75"/>
<circle cx="192.68" cy="217.22" r="2.5" fill="#0000ff" stroke="#000010" stroke-width="0.75"/>
<circle cx="190.01" cy="216.74" r="2.5" fill="#0000ff" stroke="#000010" stroke-width="0.75"/>
<circle cx="187.34" cy="216.15" r="2.5" fill="#0000ff" stroke="#000010" stroke-width="0.75"/>
<circle cx="184.67" cy="215.43" r="2.5" fill="#0000ff" stroke="#000010" stroke-width="0.75"/>
<circle cx="182.00" cy="214.56" r="2.5" fill="#0000ff" stroke="#000010" stroke-width="0.75"/>
<circle cx="179.33" cy="213.53" r="2.5" fill="#0000ff" stroke="#000010" stroke-width="0.75"/>
<circle cx="176.66" cy="212.39" r="2.5" fill="#0000ff" stroke="#000010" stroke-width="0.75"/>
<circle cx="173.99" cy="211.18" r="2.5" fill="#0000ff" stroke="#000010" stroke-width="0.75"/>
<circle cx="171.32" cy="209.88" r="2.5" fill="#0000ff" stroke="#000010" stroke-width="0.75"/>
<circle cx="168.65" cy="208.42" r="2.5" fill="#0000ff" stroke="#000010" stroke-width="0.75"/>
<circle cx="165.98" cy="206.84" r="2.5" fill="#0000ff" stroke="#000010" stroke-width="0.75"/>
<circle cx="163.31" cy="205.26" r="2.5" fill="#0000ff" stroke="#000010" stroke-width="0.75"/>
<circle cx="160.64" cy="203.72" r="2.5" fill="#0000ff" stroke="#000010" stroke-width="0.75"/>
<circle cx="157.97" cy="202.25" r="2.5" fill="#0000ff" stroke="#000010" stroke-width="0.75"/>
<circle cx="155.30" cy="200.83" r="2.5" fill="#0000ff" stroke="#000010" stroke-width="0.75"/>
<circle cx="152.63" cy="199.22" r="2.5" fill="#0000ff" stroke="#000010" stroke-width="0.75"/>
<circle cx="149.96" cy="197.25" r="2.5" fill="#0000ff" stroke="#000010" stroke-width="0.75"/>
<circle cx="147.29" cy="195.06" r="2.5" fill="#0000ff" stroke="#000010" stroke-width="0.75"/>
<circle cx="144.62" cy="192.78" r="2.5" fill="#0000ff" stroke="#000010" stroke-width="0.75"/>
<circle cx="141.95" cy="190.41" r="2.5" fill="#0000ff" stroke="#000010" stroke-width="0.75"/>
<circle cx="139.28" cy="188.03" r="2.5" fill="#0000ff" stroke="#000010" stroke-width="0.75"/>
<circle cx="136.61" cy="185.52" r="2.5" fill="#0000ff" stroke="#000010" stroke-width="0.75"/>
<circle cx="133.94" cy="182.72" r="2.5" fill="#0000ff" stroke="#000010" stroke-width="0.75"/>
<circle cx="131.27" cy="179.69" r="2.5" fill="#0000ff" stroke="#000010" stroke-width="0.75"/>
<circle cx="128.60" cy="176.60" r="2.5" fill="#0000ff" stroke="#000010" stroke-width="0.75"/>
<circle cx="125.93" cy="173.54" r="2.5" fill="#0000ff" stroke="#000010" stroke-width="0.75"/>
<circle cx="123.26" cy="170.27" r="2.5" fill="#0000ff" stroke="#000010" stroke-width="0.75"/>
<circle cx="120.59" cy="166.78" r="2.5" fill="#0000ff" stroke="#000010" stroke-width="0.75"/>
<circle cx="117.92" cy="163.25" r="2.5" fill="#0000ff" stroke="#000010" stroke-width="0.75"/>
<circle cx="115.25" cy="159.48" r="2.5" fill="#0000ff" stroke="#000010" stroke-width="0.75"/>
<circle cx="112.58" cy="155.51" r="2.5" fill="#0000ff" stroke="#000010" stroke-width="0.75"/>
<circle cx="109.91" cy="151.84" r="2.5" fill="#0000ff" stroke="#000010" stroke-width="0.75"/>
<circle cx="107.24" cy="148.27" r="2.5" fill="#0000ff" stroke="#000010" stroke-width="0.75"/>
<circle cx="104.57" cy="144.51" r="2.5" fill="#0000ff" stroke="#000010" stroke-width="0.75"/>
<circle cx="101.90" cy="140.64" r="2.5" fill="#0000ff" stroke="#000010" stroke-width="0.75"/>
<circle cx="99.23" cy="136.83" r="2.5" fill="#0000ff" stroke="#000010" stroke-width="0.75"/>
<circle cx="96.56" cy="133.45" r="2.5" fill="#0000ff" stroke="#000010" stroke-width="0.75"/>
<circle cx="93.89" cy="130.49" r="2.5" fill="#0000ff" stroke="#000010" stroke-width="0.75"/>
<circle cx="91.22" cy="127.62" r="2.5" fill="#0000ff" stroke="#000010" stroke-width="0.75"/>
<circle cx="88.55" cy="124.75" r="2.5" fill="#0000ff" stroke="#000010" stroke-width="0.75"/>
<circle cx="85.88" cy="121.88" r="2.5" fill="#0000ff" stroke="#000010" stroke-width="0.75"/>
<circle cx="83.21" cy="119.03" r="2.5" fill="#0000ff" stroke="#000010" stroke-width="0.75"/>
<circle cx="80.54" cy="116.31" r="2.5" fill="#0000ff" stroke="#000010" stroke-width="0.75"/>
<circle cx="77.87" cy="113.75" r="2.5" fill="#0000ff" stroke="#000010" stroke-width="0.75"/>
<circle cx="75.20" cy="111.21" r="2.5" fill="#0000ff" stroke="#000010" stroke-width="0.75"/>
<circle cx="72.53" cy="108.58" r="2.5" fill="#0000ff" stroke="#000010" stroke-width="0.75"/>
<circle cx="69.86" cy="105.97" r="2.5" fill="#0000ff" stroke="#000010" stroke-width="0.75"/>
<circle cx="67.19" cy="103.48" r="2.5" fill="#0000ff" stroke="#000010" stroke-width="0.75"/>
<circle cx="64.52" cy="101.13" r="2.5" fill="#0000ff" stroke="#000010" stroke-width="0.75"/>
<circle cx="61.85" cy="99.02" r="2.5" fill="#0000ff" stroke="#000010" stroke-width="0.75"/>
<circle cx="59.18" cy="97.08" r="2.5" fill="#0000ff" stroke="#000010" stroke-width="0.75"/>
<circle cx="56.51" cy="95.13" r="2.5" fill="#0000ff" stroke="#000010" stroke-width="0.75"/>
<circle cx="53.84" cy="93.27" r="2.5" fill="#0000ff" stroke="#000010" stroke-width="0.75"/>
<circle cx="51.17" cy="91.37" r="2.5" fill="#0000ff" stroke="#000010" stroke-width="0.75"/>
<circle cx="48.50" cy="89.30" r="2.5" fill="#0000ff" stroke="#000010" stroke-width="0.75"/>
</g>
<g shape-rendering="crispEdges" fill="none">
<line x1="392" y1="6.5" x2="667" y2="6.5" stroke="#3c3c3c"/>
<line x1="667" y1="6" x2="667" y2="276" stroke="#8c8c8c" stroke-width="2"/>
<line x1="393" y1="6" x2="393" y2="277" stroke="#8c8c8c" stroke-width="2"/>
<line x1="392" y1="276" x2="668" y2="276" stroke="#8c8c8c" stroke-width="2"/>
<line x1="389" y1="275.5" x2="393" y2="275.5" stroke="#555"/>
<line x1="389" y1="230.5" x2="393" y2="230.5" stroke="#555"/>
<line x1="389" y1="186.5" x2="393" y2="186.5" stroke="#555"/>
<line x1="389" y1="141.5" x2="393" y2="141.5" stroke="#555"/>
<line x1="389" y1="96.5" x2="393" y2="96.5" stroke="#555"/>
<line x1="389" y1="51.5" x2="393" y2="51.5" stroke="#555"/>
<line x1="389" y1="6.5" x2="393" y2="6.5" stroke="#555"/>
<line x1="392.5" y1="276" x2="392.5" y2="280" stroke="#555"/>
<line x1="461.5" y1="276" x2="461.5" y2="280" stroke="#555"/>
<line x1="530.5" y1="276" x2="530.5" y2="280" stroke="#555"/>
<line x1="598.5" y1="276" x2="598.5" y2="280" stroke="#555"/>
<line x1="667.5" y1="276" x2="667.5" y2="280" stroke="#555"/>
</g>
<clipPath id="cr"><rect x="393" y="7" width="274" height="268"/></clipPath>
<g>
<path d="M392.90,261.04 L395.64,260.44 L398.38,259.76 L401.13,258.99 L403.87,258.10 L406.61,257.10 L409.35,256.05 L412.09,254.96 L414.84,253.75 L417.58,252.28 L420.32,250.54 L423.06,248.72 L425.80,247.02 L428.55,245.42 L431.29,243.85 L434.03,242.25 L436.77,240.62 L439.51,238.97 L442.26,237.26 L445.00,235.47 L447.74,233.58 L450.48,231.64 L453.22,229.75 L455.97,227.97 L458.71,226.31 L461.45,224.68 L464.19,223.01 L466.93,221.29 L469.68,219.56 L472.42,217.89 L475.16,216.29 L477.90,214.78 L480.64,213.40 L483.39,212.15 L486.13,211.05 L488.87,210.21 L491.61,209.66 L494.35,209.28 L497.10,209.08 L499.84,209.12 L502.58,209.37 L505.32,209.79 L508.06,210.42 L510.81,211.36 L513.55,212.52 L516.29,213.76 L519.03,215.07 L521.77,216.46 L524.52,217.87 L527.26,219.30 L530.00,220.78 L532.74,222.35 L535.48,224.03 L538.23,225.80 L540.97,227.62 L543.71,229.48 L546.45,231.38 L549.19,233.29 L551.94,235.21 L554.68,237.14 L557.42,239.02 L560.16,240.84 L562.90,242.59 L565.65,244.34 L568.39,246.11 L571.13,247.89 L573.87,249.61 L576.61,251.19 L579.36,252.65 L582.10,254.07 L584.84,255.59 L587.58,257.24 L590.32,258.85 L593.07,260.16 L595.81,261.15 L598.55,261.96 L601.29,262.76 L604.03,263.61 L606.78,264.49 L609.52,265.38 L612.26,266.28 L615.00,267.17 L617.74,268.06 L620.49,268.93 L623.23,269.78 L625.97,270.59 L628.71,271.31 L631.45,271.97 L634.20,272.59 L636.94,273.21 L639.68,273.82 L642.42,274.47 L645.16,275.18 L647.91,276.00 L650.65,276.88" fill="none" stroke="#000" stroke-width="0.8"/>
<circle cx="650.65" cy="276.88" r="2.8" fill="#000"/>
<circle cx="647.91" cy="276.00" r="2.8" fill="#000"/>
<circle cx="645.16" cy="275.18" r="2.8" fill="#000"/>
<circle cx="642.42" cy="274.47" r="2.8" fill="#000"/>
<circle cx="639.68" cy="273.82" r="2.8" fill="#000"/>
<circle cx="636.94" cy="273.21" r="2.8" fill="#000"/>
<circle cx="634.20" cy="272.59" r="2.8" fill="#000"/>
<circle cx="631.45" cy="271.97" r="2.8" fill="#000"/>
<circle cx="628.71" cy="271.31" r="2.8" fill="#000"/>
<circle cx="625.97" cy="270.59" r="2.8" fill="#000"/>
<circle cx="623.23" cy="269.78" r="2.8" fill="#000"/>
<circle cx="620.49" cy="268.93" r="2.8" fill="#000"/>
<circle cx="617.74" cy="268.06" r="2.8" fill="#000"/>
<circle cx="615.00" cy="267.17" r="2.8" fill="#000"/>
<circle cx="612.26" cy="266.28" r="2.8" fill="#000"/>
<circle cx="609.52" cy="265.38" r="2.8" fill="#000"/>
<circle cx="606.78" cy="264.49" r="2.8" fill="#000"/>
<circle cx="604.03" cy="263.61" r="2.8" fill="#000"/>
<circle cx="601.29" cy="262.76" r="2.8" fill="#000"/>
<circle cx="598.55" cy="261.96" r="2.8" fill="#000"/>
<circle cx="595.81" cy="261.15" r="2.8" fill="#000"/>
<circle cx="593.07" cy="260.16" r="2.8" fill="#000"/>
<circle cx="590.32" cy="258.85" r="2.8" fill="#000"/>
<circle cx="587.58" cy="257.24" r="2.8" fill="#000"/>
<circle cx="584.84" cy="255.59" r="2.8" fill="#000"/>
<circle cx="582.10" cy="254.07" r="2.8" fill="#000"/>
<circle cx="579.36" cy="252.65" r="2.8" fill="#000"/>
<circle cx="576.61" cy="251.19" r="2.8" fill="#000"/>
<circle cx="573.87" cy="249.61" r="2.8" fill="#000"/>
<circle cx="571.13" cy="247.89" r="2.8" fill="#000"/>
<circle cx="568.39" cy="246.11" r="2.8" fill="#000"/>
<circle cx="565.65" cy="244.34" r="2.8" fill="#000"/>
<circle cx="562.90" cy="242.59" r="2.8" fill="#000"/>
<circle cx="560.16" cy="240.84" r="2.8" fill="#000"/>
<circle cx="557.42" cy="239.02" r="2.8" fill="#000"/>
<circle cx="554.68" cy="237.14" r="2.8" fill="#000"/>
<circle cx="551.94" cy="235.21" r="2.8" fill="#000"/>
<circle cx="549.19" cy="233.29" r="2.8" fill="#000"/>
<circle cx="546.45" cy="231.38" r="2.8" fill="#000"/>
<circle cx="543.71" cy="229.48" r="2.8" fill="#000"/>
<circle cx="540.97" cy="227.62" r="2.8" fill="#000"/>
<circle cx="538.23" cy="225.80" r="2.8" fill="#000"/>
<circle cx="535.48" cy="224.03" r="2.8" fill="#000"/>
<circle cx="532.74" cy="222.35" r="2.8" fill="#000"/>
<circle cx="530.00" cy="220.78" r="2.8" fill="#000"/>
<circle cx="527.26" cy="219.30" r="2.8" fill="#000"/>
<circle cx="524.52" cy="217.87" r="2.8" fill="#000"/>
<circle cx="521.77" cy="216.46" r="2.8" fill="#000"/>
<circle cx="519.03" cy="215.07" r="2.8" fill="#000"/>
<circle cx="516.29" cy="213.76" r="2.8" fill="#000"/>
<circle cx="513.55" cy="212.52" r="2.8" fill="#000"/>
<circle cx="510.81" cy="211.36" r="2.8" fill="#000"/>
<circle cx="508.06" cy="210.42" r="2.8" fill="#000"/>
<circle cx="505.32" cy="209.79" r="2.8" fill="#000"/>
<circle cx="502.58" cy="209.37" r="2.8" fill="#000"/>
<circle cx="499.84" cy="209.12" r="2.8" fill="#000"/>
<circle cx="497.10" cy="209.08" r="2.8" fill="#000"/>
<circle cx="494.35" cy="209.28" r="2.8" fill="#000"/>
<circle cx="491.61" cy="209.66" r="2.8" fill="#000"/>
<circle cx="488.87" cy="210.21" r="2.8" fill="#000"/>
<circle cx="486.13" cy="211.05" r="2.8" fill="#000"/>
<circle cx="483.39" cy="212.15" r="2.8" fill="#000"/>
<circle cx="480.64" cy="213.40" r="2.8" fill="#000"/>
<circle cx="477.90" cy="214.78" r="2.8" fill="#000"/>
<circle cx="475.16" cy="216.29" r="2.8" fill="#000"/>
<circle cx="472.42" cy="217.89" r="2.8" fill="#000"/>
<circle cx="469.68" cy="219.56" r="2.8" fill="#000"/>
<circle cx="466.93" cy="221.29" r="2.8" fill="#000"/>
<circle cx="464.19" cy="223.01" r="2.8" fill="#000"/>
<circle cx="461.45" cy="224.68" r="2.8" fill="#000"/>
<circle cx="458.71" cy="226.31" r="2.8" fill="#000"/>
<circle cx="455.97" cy="227.97" r="2.8" fill="#000"/>
<circle cx="453.22" cy="229.75" r="2.8" fill="#000"/>
<circle cx="450.48" cy="231.64" r="2.8" fill="#000"/>
<circle cx="447.74" cy="233.58" r="2.8" fill="#000"/>
<circle cx="445.00" cy="235.47" r="2.8" fill="#000"/>
<circle cx="442.26" cy="237.26" r="2.8" fill="#000"/>
<circle cx="439.51" cy="238.97" r="2.8" fill="#000"/>
<circle cx="436.77" cy="240.62" r="2.8" fill="#000"/>
<circle cx="434.03" cy="242.25" r="2.8" fill="#000"/>
<circle cx="431.29" cy="243.85" r="2.8" fill="#000"/>
<circle cx="428.55" cy="245.42" r="2.8" fill="#000"/>
<circle cx="425.80" cy="247.02" r="2.8" fill="#000"/>
<circle cx="423.06" cy="248.72" r="2.8" fill="#000"/>
<circle cx="420.32" cy="250.54" r="2.8" fill="#000"/>
<circle cx="417.58" cy="252.28" r="2.8" fill="#000"/>
<circle cx="414.84" cy="253.75" r="2.8" fill="#000"/>
<circle cx="412.09" cy="254.96" r="2.8" fill="#000"/>
<circle cx="409.35" cy="256.05" r="2.8" fill="#000"/>
<circle cx="406.61" cy="257.10" r="2.8" fill="#000"/>
<circle cx="403.87" cy="258.10" r="2.8" fill="#000"/>
<circle cx="401.13" cy="258.99" r="2.8" fill="#000"/>
<circle cx="398.38" cy="259.76" r="2.8" fill="#000"/>
<circle cx="395.64" cy="260.44" r="2.8" fill="#000"/>
<circle cx="392.90" cy="261.04" r="2.8" fill="#000"/>
<path d="M392.90,230.88 L395.64,226.68 L398.38,222.67 L401.13,218.88 L403.87,215.30 L406.61,211.95 L409.35,208.72 L412.09,205.35 L414.84,201.63 L417.58,197.41 L420.32,192.73 L423.06,188.12 L425.80,183.89 L428.55,179.69 L431.29,175.01 L434.03,169.96 L436.77,164.98 L439.51,160.23 L442.26,155.56 L445.00,150.82 L447.74,145.85 L450.48,140.41 L453.22,134.75 L455.97,129.46 L458.71,124.67 L461.45,120.14 L464.19,115.89 L466.93,112.17 L469.68,109.01 L472.42,106.33 L475.16,104.12 L477.90,102.33 L480.64,100.95 L483.39,100.05 L486.13,99.67 L488.87,99.81 L491.61,100.36 L494.35,101.31 L497.10,102.96 L499.84,105.43 L502.58,108.58 L505.32,112.17 L508.06,115.79 L510.81,119.42 L513.55,123.50 L516.29,127.98 L519.03,132.43 L521.77,137.18 L524.52,142.54 L527.26,147.69 L530.00,152.26 L532.74,157.21 L535.48,162.98 L538.23,168.83 L540.97,174.35 L543.71,179.61 L546.45,184.66 L549.19,189.61 L551.94,194.22 L554.68,197.83 L557.42,200.18 L560.16,202.31 L562.90,205.58 L565.65,209.61 L568.39,213.68 L571.13,217.94 L573.87,222.45 L576.61,227.53 L579.36,233.00 L582.10,237.52 L584.84,240.68 L587.58,243.11 L590.32,245.28 L593.07,247.44 L595.81,249.61 L598.55,251.72 L601.29,253.88 L604.03,256.15 L606.78,258.46 L609.52,260.72 L612.26,262.85 L615.00,264.76 L617.74,266.44 L620.49,267.92 L623.23,269.22 L625.97,270.37 L628.71,271.37 L631.45,272.18 L634.20,272.81 L636.94,273.31 L639.68,273.80 L642.42,274.31 L645.16,274.84 L647.91,275.40 L650.65,275.97" fill="none" stroke="#333" stroke-width="0.8"/>
<circle cx="650.65" cy="275.97" r="2.75" fill="#ff0000"/>
<circle cx="647.91" cy="275.40" r="2.75" fill="#ff0000"/>
<circle cx="645.16" cy="274.84" r="2.75" fill="#ff0000"/>
<circle cx="642.42" cy="274.31" r="2.75" fill="#ff0000"/>
<circle cx="639.68" cy="273.80" r="2.75" fill="#ff0000"/>
<circle cx="636.94" cy="273.31" r="2.75" fill="#ff0000"/>
<circle cx="634.20" cy="272.81" r="2.75" fill="#ff0000"/>
<circle cx="631.45" cy="272.18" r="2.75" fill="#ff0000"/>
<circle cx="628.71" cy="271.37" r="2.75" fill="#ff0000"/>
<circle cx="625.97" cy="270.37" r="2.75" fill="#ff0000"/>
<circle cx="623.23" cy="269.22" r="2.75" fill="#ff0000"/>
<circle cx="620.49" cy="267.92" r="2.75" fill="#ff0000"/>
<circle cx="617.74" cy="266.44" r="2.75" fill="#ff0000"/>
<circle cx="615.00" cy="264.76" r="2.75" fill="#ff0000"/>
<circle cx="612.26" cy="262.85" r="2.75" fill="#ff0000"/>
<circle cx="609.52" cy="260.72" r="2.75" fill="#ff0000"/>
<circle cx="606.78" cy="258.46" r="2.75" fill="#ff0000"/>
<circle cx="604.03" cy="256.15" r="2.75" fill="#ff0000"/>
<circle cx="601.29" cy="253.88" r="2.75" fill="#ff0000"/>
<circle cx="598.55" cy="251.72" r="2.75" fill="#ff0000"/>
<circle cx="595.81" cy="249.61" r="2.75" fill="#ff0000"/>
<circle cx="593.07" cy="247.44" r="2.75" fill="#ff0000"/>
<circle cx="590.32" cy="245.28" r="2.75" fill="#ff0000"/>
<circle cx="587.58" cy="243.11" r="2.75" fill="#ff0000"/>
<circle cx="584.84" cy="240.68" r="2.75" fill="#ff0000"/>
<circle cx="582.10" cy="237.52" r="2.75" fill="#ff0000"/>
<circle cx="579.36" cy="233.00" r="2.75" fill="#ff0000"/>
<circle cx="576.61" cy="227.53" r="2.75" fill="#ff0000"/>
<circle cx="573.87" cy="222.45" r="2.75" fill="#ff0000"/>
<circle cx="571.13" cy="217.94" r="2.75" fill="#ff0000"/>
<circle cx="568.39" cy="213.68" r="2.75" fill="#ff0000"/>
<circle cx="565.65" cy="209.61" r="2.75" fill="#ff0000"/>
<circle cx="562.90" cy="205.58" r="2.75" fill="#ff0000"/>
<circle cx="560.16" cy="202.31" r="2.75" fill="#ff0000"/>
<circle cx="557.42" cy="200.18" r="2.75" fill="#ff0000"/>
<circle cx="554.68" cy="197.83" r="2.75" fill="#ff0000"/>
<circle cx="551.94" cy="194.22" r="2.75" fill="#ff0000"/>
<circle cx="549.19" cy="189.61" r="2.75" fill="#ff0000"/>
<circle cx="546.45" cy="184.66" r="2.75" fill="#ff0000"/>
<circle cx="543.71" cy="179.61" r="2.75" fill="#ff0000"/>
<circle cx="540.97" cy="174.35" r="2.75" fill="#ff0000"/>
<circle cx="538.23" cy="168.83" r="2.75" fill="#ff0000"/>
<circle cx="535.48" cy="162.98" r="2.75" fill="#ff0000"/>
<circle cx="532.74" cy="157.21" r="2.75" fill="#ff0000"/>
<circle cx="530.00" cy="152.26" r="2.75" fill="#ff0000"/>
<circle cx="527.26" cy="147.69" r="2.75" fill="#ff0000"/>
<circle cx="524.52" cy="142.54" r="2.75" fill="#ff0000"/>
<circle cx="521.77" cy="137.18" r="2.75" fill="#ff0000"/>
<circle cx="519.03" cy="132.43" r="2.75" fill="#ff0000"/>
<circle cx="516.29" cy="127.98" r="2.75" fill="#ff0000"/>
<circle cx="513.55" cy="123.50" r="2.75" fill="#ff0000"/>
<circle cx="510.81" cy="119.42" r="2.75" fill="#ff0000"/>
<circle cx="508.06" cy="115.79" r="2.75" fill="#ff0000"/>
<circle cx="505.32" cy="112.17" r="2.75" fill="#ff0000"/>
<circle cx="502.58" cy="108.58" r="2.75" fill="#ff0000"/>
<circle cx="499.84" cy="105.43" r="2.75" fill="#ff0000"/>
<circle cx="497.10" cy="102.96" r="2.75" fill="#ff0000"/>
<circle cx="494.35" cy="101.31" r="2.75" fill="#ff0000"/>
<circle cx="491.61" cy="100.36" r="2.75" fill="#ff0000"/>
<circle cx="488.87" cy="99.81" r="2.75" fill="#ff0000"/>
<circle cx="486.13" cy="99.67" r="2.75" fill="#ff0000"/>
<circle cx="483.39" cy="100.05" r="2.75" fill="#ff0000"/>
<circle cx="480.64" cy="100.95" r="2.75" fill="#ff0000"/>
<circle cx="477.90" cy="102.33" r="2.75" fill="#ff0000"/>
<circle cx="475.16" cy="104.12" r="2.75" fill="#ff0000"/>
<circle cx="472.42" cy="106.33" r="2.75" fill="#ff0000"/>
<circle cx="469.68" cy="109.01" r="2.75" fill="#ff0000"/>
<circle cx="466.93" cy="112.17" r="2.75" fill="#ff0000"/>
<circle cx="464.19" cy="115.89" r="2.75" fill="#ff0000"/>
<circle cx="461.45" cy="120.14" r="2.75" fill="#ff0000"/>
<circle cx="458.71" cy="124.67" r="2.75" fill="#ff0000"/>
<circle cx="455.97" cy="129.46" r="2.75" fill="#ff0000"/>
<circle cx="453.22" cy="134.75" r="2.75" fill="#ff0000"/>
<circle cx="450.48" cy="140.41" r="2.75" fill="#ff0000"/>
<circle cx="447.74" cy="145.85" r="2.75" fill="#ff0000"/>
<circle cx="445.00" cy="150.82" r="2.75" fill="#ff0000"/>
<circle cx="442.26" cy="155.56" r="2.75" fill="#ff0000"/>
<circle cx="439.51" cy="160.23" r="2.75" fill="#ff0000"/>
<circle cx="436.77" cy="164.98" r="2.75" fill="#ff0000"/>
<circle cx="434.03" cy="169.96" r="2.75" fill="#ff0000"/>
<circle cx="431.29" cy="175.01" r="2.75" fill="#ff0000"/>
<circle cx="428.55" cy="179.69" r="2.75" fill="#ff0000"/>
<circle cx="425.80" cy="183.89" r="2.75" fill="#ff0000"/>
<circle cx="423.06" cy="188.12" r="2.75" fill="#ff0000"/>
<circle cx="420.32" cy="192.73" r="2.75" fill="#ff0000"/>
<circle cx="417.58" cy="197.41" r="2.75" fill="#ff0000"/>
<circle cx="414.84" cy="201.63" r="2.75" fill="#ff0000"/>
<circle cx="412.09" cy="205.35" r="2.75" fill="#ff0000"/>
<circle cx="409.35" cy="208.72" r="2.75" fill="#ff0000"/>
<circle cx="406.61" cy="211.95" r="2.75" fill="#ff0000"/>
<circle cx="403.87" cy="215.30" r="2.75" fill="#ff0000"/>
<circle cx="401.13" cy="218.88" r="2.75" fill="#ff0000"/>
<circle cx="398.38" cy="222.67" r="2.75" fill="#ff0000"/>
<circle cx="395.64" cy="226.68" r="2.75" fill="#ff0000"/>
<circle cx="392.90" cy="230.88" r="2.75" fill="#ff0000"/>
<path d="M392.90,202.96 L395.64,198.75 L398.38,194.00 L401.13,188.68 L403.87,183.10 L406.61,177.63 L409.35,172.28 L412.09,166.55 L414.84,160.48 L417.58,154.43 L420.32,148.34 L423.06,141.93 L425.80,135.29 L428.55,128.93 L431.29,122.66 L434.03,115.81 L436.77,108.59 L439.51,101.92 L442.26,95.52 L445.00,88.54 L447.74,81.25 L450.48,74.41 L453.22,68.14 L455.97,62.46 L458.71,57.19 L461.45,52.22 L464.19,47.86 L466.93,44.10 L469.68,40.99 L472.42,38.64 L475.16,36.92 L477.90,35.93 L480.64,35.98 L483.39,36.90 L486.13,38.57 L488.87,41.21 L491.61,44.65 L494.35,48.47 L497.10,52.79 L499.84,57.80 L502.58,63.31 L505.32,69.20 L508.06,75.00 L510.81,80.62 L513.55,86.88 L516.29,93.72 L519.03,100.58 L521.77,107.44 L524.52,114.28 L527.26,120.93 L530.00,127.51 L532.74,134.41 L535.48,141.35 L538.23,147.84 L540.97,154.12 L543.71,160.25 L546.45,166.20 L549.19,172.18 L551.94,177.73 L554.68,182.59 L557.42,187.21 L560.16,192.12 L562.90,197.04 L565.65,201.71 L568.39,206.93 L571.13,212.50 L573.87,217.40 L576.61,222.96 L579.36,229.83 L582.10,235.21 L584.84,238.23 L587.58,240.32 L590.32,242.26 L593.07,244.42 L595.81,246.90 L598.55,249.62 L601.29,252.47 L604.03,255.31 L606.78,258.00 L609.52,260.40 L612.26,262.51 L615.00,264.37 L617.74,266.02 L620.49,267.50 L623.23,268.82 L625.97,270.00 L628.71,271.06 L631.45,271.98 L634.20,272.76 L636.94,273.47 L639.68,274.28 L642.42,275.35 L645.16,276.61 L647.91,277.87" fill="none" stroke="#999" stroke-width="0.8"/>
<circle cx="647.91" cy="277.87" r="3.0" fill="#ff00ff"/>
<circle cx="645.16" cy="276.61" r="3.0" fill="#ff00ff"/>
<circle cx="642.42" cy="275.35" r="3.0" fill="#ff00ff"/>
<circle cx="639.68" cy="274.28" r="3.0" fill="#ff00ff"/>
<circle cx="636.94" cy="273.47" r="3.0" fill="#ff00ff"/>
<circle cx="634.20" cy="272.76" r="3.0" fill="#ff00ff"/>
<circle cx="631.45" cy="271.98" r="3.0" fill="#ff00ff"/>
<circle cx="628.71" cy="271.06" r="3.0" fill="#ff00ff"/>
<circle cx="625.97" cy="270.00" r="3.0" fill="#ff00ff"/>
<circle cx="623.23" cy="268.82" r="3.0" fill="#ff00ff"/>
<circle cx="620.49" cy="267.50" r="3.0" fill="#ff00ff"/>
<circle cx="617.74" cy="266.02" r="3.0" fill="#ff00ff"/>
<circle cx="615.00" cy="264.37" r="3.0" fill="#ff00ff"/>
<circle cx="612.26" cy="262.51" r="3.0" fill="#ff00ff"/>
<circle cx="609.52" cy="260.40" r="3.0" fill="#ff00ff"/>
<circle cx="606.78" cy="258.00" r="3.0" fill="#ff00ff"/>
<circle cx="604.03" cy="255.31" r="3.0" fill="#ff00ff"/>
<circle cx="601.29" cy="252.47" r="3.0" fill="#ff00ff"/>
<circle cx="598.55" cy="249.62" r="3.0" fill="#ff00ff"/>
<circle cx="595.81" cy="246.90" r="3.0" fill="#ff00ff"/>
<circle cx="593.07" cy="244.42" r="3.0" fill="#ff00ff"/>
<circle cx="590.32" cy="242.26" r="3.0" fill="#ff00ff"/>
<circle cx="587.58" cy="240.32" r="3.0" fill="#ff00ff"/>
<circle cx="584.84" cy="238.23" r="3.0" fill="#ff00ff"/>
<circle cx="582.10" cy="235.21" r="3.0" fill="#ff00ff"/>
<circle cx="579.36" cy="229.83" r="3.0" fill="#ff00ff"/>
<circle cx="576.61" cy="222.96" r="3.0" fill="#ff00ff"/>
<circle cx="573.87" cy="217.40" r="3.0" fill="#ff00ff"/>
<circle cx="571.13" cy="212.50" r="3.0" fill="#ff00ff"/>
<circle cx="568.39" cy="206.93" r="3.0" fill="#ff00ff"/>
<circle cx="565.65" cy="201.71" r="3.0" fill="#ff00ff"/>
<circle cx="562.90" cy="197.04" r="3.0" fill="#ff00ff"/>
<circle cx="560.16" cy="192.12" r="3.0" fill="#ff00ff"/>
<circle cx="557.42" cy="187.21" r="3.0" fill="#ff00ff"/>
<circle cx="554.68" cy="182.59" r="3.0" fill="#ff00ff"/>
<circle cx="551.94" cy="177.73" r="3.0" fill="#ff00ff"/>
<circle cx="549.19" cy="172.18" r="3.0" fill="#ff00ff"/>
<circle cx="546.45" cy="166.20" r="3.0" fill="#ff00ff"/>
<circle cx="543.71" cy="160.25" r="3.0" fill="#ff00ff"/>
<circle cx="540.97" cy="154.12" r="3.0" fill="#ff00ff"/>
<circle cx="538.23" cy="147.84" r="3.0" fill="#ff00ff"/>
<circle cx="535.48" cy="141.35" r="3.0" fill="#ff00ff"/>
<circle cx="532.74" cy="134.41" r="3.0" fill="#ff00ff"/>
<circle cx="530.00" cy="127.51" r="3.0" fill="#ff00ff"/>
<circle cx="527.26" cy="120.93" r="3.0" fill="#ff00ff"/>
<circle cx="524.52" cy="114.28" r="3.0" fill="#ff00ff"/>
<circle cx="521.77" cy="107.44" r="3.0" fill="#ff00ff"/>
<circle cx="519.03" cy="100.58" r="3.0" fill="#ff00ff"/>
<circle cx="516.29" cy="93.72" r="3.0" fill="#ff00ff"/>
<circle cx="513.55" cy="86.88" r="3.0" fill="#ff00ff"/>
<circle cx="510.81" cy="80.62" r="3.0" fill="#ff00ff"/>
<circle cx="508.06" cy="75.00" r="3.0" fill="#ff00ff"/>
<circle cx="505.32" cy="69.20" r="3.0" fill="#ff00ff"/>
<circle cx="502.58" cy="63.31" r="3.0" fill="#ff00ff"/>
<circle cx="499.84" cy="57.80" r="3.0" fill="#ff00ff"/>
<circle cx="497.10" cy="52.79" r="3.0" fill="#ff00ff"/>
<circle cx="494.35" cy="48.47" r="3.0" fill="#ff00ff"/>
<circle cx="491.61" cy="44.65" r="3.0" fill="#ff00ff"/>
<circle cx="488.87" cy="41.21" r="3.0" fill="#ff00ff"/>
<circle cx="486.13" cy="38.57" r="3.0" fill="#ff00ff"/>
<circle cx="483.39" cy="36.90" r="3.0" fill="#ff00ff"/>
<circle cx="480.64" cy="35.98" r="3.0" fill="#ff00ff"/>
<circle cx="477.90" cy="35.93" r="3.0" fill="#ff00ff"/>
<circle cx="475.16" cy="36.92" r="3.0" fill="#ff00ff"/>
<circle cx="472.42" cy="38.64" r="3.0" fill="#ff00ff"/>
<circle cx="469.68" cy="40.99" r="3.0" fill="#ff00ff"/>
<circle cx="466.93" cy="44.10" r="3.0" fill="#ff00ff"/>
<circle cx="464.19" cy="47.86" r="3.0" fill="#ff00ff"/>
<circle cx="461.45" cy="52.22" r="3.0" fill="#ff00ff"/>
<circle cx="458.71" cy="57.19" r="3.0" fill="#ff00ff"/>
<circle cx="455.97" cy="62.46" r="3.0" fill="#ff00ff"/>
<circle cx="453.22" cy="68.14" r="3.0" fill="#ff00ff"/>
<circle cx="450.48" cy="74.41" r="3.0" fill="#ff00ff"/>
<circle cx="447.74" cy="81.25" r="3.0" fill="#ff00ff"/>
<circle cx="445.00" cy="88.54" r="3.0" fill="#ff00ff"/>
<circle cx="442.26" cy="95.52" r="3.0" fill="#ff00ff"/>
<circle cx="439.51" cy="101.92" r="3.0" fill="#ff00ff"/>
<circle cx="436.77" cy="108.59" r="3.0" fill="#ff00ff"/>
<circle cx="434.03" cy="115.81" r="3.0" fill="#ff00ff"/>
<circle cx="431.29" cy="122.66" r="3.0" fill="#ff00ff"/>
<circle cx="428.55" cy="128.93" r="3.0" fill="#ff00ff"/>
<circle cx="425.80" cy="135.29" r="3.0" fill="#ff00ff"/>
<circle cx="423.06" cy="141.93" r="3.0" fill="#ff00ff"/>
<circle cx="420.32" cy="148.34" r="3.0" fill="#ff00ff"/>
<circle cx="417.58" cy="154.43" r="3.0" fill="#ff00ff"/>
<circle cx="414.84" cy="160.48" r="3.0" fill="#ff00ff"/>
<circle cx="412.09" cy="166.55" r="3.0" fill="#ff00ff"/>
<circle cx="409.35" cy="172.28" r="3.0" fill="#ff00ff"/>
<circle cx="406.61" cy="177.63" r="3.0" fill="#ff00ff"/>
<circle cx="403.87" cy="183.10" r="3.0" fill="#ff00ff"/>
<circle cx="401.13" cy="188.68" r="3.0" fill="#ff00ff"/>
<circle cx="398.38" cy="194.00" r="3.0" fill="#ff00ff"/>
<circle cx="395.64" cy="198.75" r="3.0" fill="#ff00ff"/>
<circle cx="392.90" cy="202.96" r="3.0" fill="#ff00ff"/>
<path d="M392.90,196.26 L395.64,190.11 L398.38,183.58 L401.13,177.25 L403.87,171.05 L406.61,164.63 L409.35,158.09 L412.09,151.77 L414.84,145.45 L417.58,138.85 L420.32,132.47 L423.06,125.83 L425.80,118.64 L428.55,111.07 L431.29,103.29 L434.03,96.36 L436.77,90.54 L439.51,84.80 L442.26,78.36 L445.00,71.47 L447.74,65.03 L450.48,59.45 L453.22,54.38 L455.97,49.64 L458.71,45.15 L461.45,40.63 L464.19,36.40 L466.93,33.11 L469.68,30.78 L472.42,29.19 L475.16,28.33 L477.90,28.14 L480.64,28.45 L483.39,29.40 L486.13,31.17 L488.87,33.46 L491.61,36.17 L494.35,39.80 L497.10,44.72 L499.84,51.03 L502.58,58.25 L505.32,65.55 L508.06,72.94 L510.81,80.56 L513.55,88.49 L516.29,96.49 L519.03,103.98 L521.77,111.18 L524.52,118.41 L527.26,125.70 L530.00,132.99 L532.74,140.29 L535.48,147.81 L538.23,155.10 L540.97,162.31 L543.71,170.04 L546.45,177.28 L549.19,183.74 L551.94,190.11 L554.68,196.60 L557.42,203.12 L560.16,208.82 L562.90,213.43 L565.65,217.49 L568.39,220.95 L571.13,223.71 L573.87,226.09 L576.61,228.23 L579.36,230.08 L582.10,231.63 L584.84,233.12 L587.58,234.82 L590.32,236.64 L593.07,238.47 L595.81,240.48 L598.55,242.93 L601.29,245.96 L604.03,249.33 L606.78,252.64 L609.52,255.63 L612.26,258.25 L615.00,260.42 L617.74,262.18 L620.49,263.69 L623.23,264.95 L625.97,265.87 L628.71,266.46 L631.45,266.84 L634.20,267.15 L636.94,267.46 L639.68,267.73 L642.42,267.90 L645.16,268.02 L647.91,268.17 L650.65,268.39 L653.39,268.66 L656.13,268.86 L658.87,268.99 L661.62,269.11 L664.36,269.24 L667.10,269.38" fill="none" stroke="#000" stroke-width="0.8"/>
<circle cx="667.10" cy="269.38" r="2.45" fill="#0000ff" stroke="#000010" stroke-width="0.75"/>
<circle cx="664.36" cy="269.24" r="2.45" fill="#0000ff" stroke="#000010" stroke-width="0.75"/>
<circle cx="661.62" cy="269.11" r="2.45" fill="#0000ff" stroke="#000010" stroke-width="0.75"/>
<circle cx="658.87" cy="268.99" r="2.45" fill="#0000ff" stroke="#000010" stroke-width="0.75"/>
<circle cx="656.13" cy="268.86" r="2.45" fill="#0000ff" stroke="#000010" stroke-width="0.75"/>
<circle cx="653.39" cy="268.66" r="2.45" fill="#0000ff" stroke="#000010" stroke-width="0.75"/>
<circle cx="650.65" cy="268.39" r="2.45" fill="#0000ff" stroke="#000010" stroke-width="0.75"/>
<circle cx="647.91" cy="268.17" r="2.45" fill="#0000ff" stroke="#000010" stroke-width="0.75"/>
<circle cx="645.16" cy="268.02" r="2.45" fill="#0000ff" stroke="#000010" stroke-width="0.75"/>
<circle cx="642.42" cy="267.90" r="2.45" fill="#0000ff" stroke="#000010" stroke-width="0.75"/>
<circle cx="639.68" cy="267.73" r="2.45" fill="#0000ff" stroke="#000010" stroke-width="0.75"/>
<circle cx="636.94" cy="267.46" r="2.45" fill="#0000ff" stroke="#000010" stroke-width="0.75"/>
<circle cx="634.20" cy="267.15" r="2.45" fill="#0000ff" stroke="#000010" stroke-width="0.75"/>
<circle cx="631.45" cy="266.84" r="2.45" fill="#0000ff" stroke="#000010" stroke-width="0.75"/>
<circle cx="628.71" cy="266.46" r="2.45" fill="#0000ff" stroke="#000010" stroke-width="0.75"/>
<circle cx="625.97" cy="265.87" r="2.45" fill="#0000ff" stroke="#000010" stroke-width="0.75"/>
<circle cx="623.23" cy="264.95" r="2.45" fill="#0000ff" stroke="#000010" stroke-width="0.75"/>
<circle cx="620.49" cy="263.69" r="2.45" fill="#0000ff" stroke="#000010" stroke-width="0.75"/>
<circle cx="617.74" cy="262.18" r="2.45" fill="#0000ff" stroke="#000010" stroke-width="0.75"/>
<circle cx="615.00" cy="260.42" r="2.45" fill="#0000ff" stroke="#000010" stroke-width="0.75"/>
<circle cx="612.26" cy="258.25" r="2.45" fill="#0000ff" stroke="#000010" stroke-width="0.75"/>
<circle cx="609.52" cy="255.63" r="2.45" fill="#0000ff" stroke="#000010" stroke-width="0.75"/>
<circle cx="606.78" cy="252.64" r="2.45" fill="#0000ff" stroke="#000010" stroke-width="0.75"/>
<circle cx="604.03" cy="249.33" r="2.45" fill="#0000ff" stroke="#000010" stroke-width="0.75"/>
<circle cx="601.29" cy="245.96" r="2.45" fill="#0000ff" stroke="#000010" stroke-width="0.75"/>
<circle cx="598.55" cy="242.93" r="2.45" fill="#0000ff" stroke="#000010" stroke-width="0.75"/>
<circle cx="595.81" cy="240.48" r="2.45" fill="#0000ff" stroke="#000010" stroke-width="0.75"/>
<circle cx="593.07" cy="238.47" r="2.45" fill="#0000ff" stroke="#000010" stroke-width="0.75"/>
<circle cx="590.32" cy="236.64" r="2.45" fill="#0000ff" stroke="#000010" stroke-width="0.75"/>
<circle cx="587.58" cy="234.82" r="2.45" fill="#0000ff" stroke="#000010" stroke-width="0.75"/>
<circle cx="584.84" cy="233.12" r="2.45" fill="#0000ff" stroke="#000010" stroke-width="0.75"/>
<circle cx="582.10" cy="231.63" r="2.45" fill="#0000ff" stroke="#000010" stroke-width="0.75"/>
<circle cx="579.36" cy="230.08" r="2.45" fill="#0000ff" stroke="#000010" stroke-width="0.75"/>
<circle cx="576.61" cy="228.23" r="2.45" fill="#0000ff" stroke="#000010" stroke-width="0.75"/>
<circle cx="573.87" cy="226.09" r="2.45" fill="#0000ff" stroke="#000010" stroke-width="0.75"/>
<circle cx="571.13" cy="223.71" r="2.45" fill="#0000ff" stroke="#000010" stroke-width="0.75"/>
<circle cx="568.39" cy="220.95" r="2.45" fill="#0000ff" stroke="#000010" stroke-width="0.75"/>
<circle cx="565.65" cy="217.49" r="2.45" fill="#0000ff" stroke="#000010" stroke-width="0.75"/>
<circle cx="562.90" cy="213.43" r="2.45" fill="#0000ff" stroke="#000010" stroke-width="0.75"/>
<circle cx="560.16" cy="208.82" r="2.45" fill="#0000ff" stroke="#000010" stroke-width="0.75"/>
<circle cx="557.42" cy="203.12" r="2.45" fill="#0000ff" stroke="#000010" stroke-width="0.75"/>
<circle cx="554.68" cy="196.60" r="2.45" fill="#0000ff" stroke="#000010" stroke-width="0.75"/>
<circle cx="551.94" cy="190.11" r="2.45" fill="#0000ff" stroke="#000010" stroke-width="0.75"/>
<circle cx="549.19" cy="183.74" r="2.45" fill="#0000ff" stroke="#000010" stroke-width="0.75"/>
<circle cx="546.45" cy="177.28" r="2.45" fill="#0000ff" stroke="#000010" stroke-width="0.75"/>
<circle cx="543.71" cy="170.04" r="2.45" fill="#0000ff" stroke="#000010" stroke-width="0.75"/>
<circle cx="540.97" cy="162.31" r="2.45" fill="#0000ff" stroke="#000010" stroke-width="0.75"/>
<circle cx="538.23" cy="155.10" r="2.45" fill="#0000ff" stroke="#000010" stroke-width="0.75"/>
<circle cx="535.48" cy="147.81" r="2.45" fill="#0000ff" stroke="#000010" stroke-width="0.75"/>
<circle cx="532.74" cy="140.29" r="2.45" fill="#0000ff" stroke="#000010" stroke-width="0.75"/>
<circle cx="530.00" cy="132.99" r="2.45" fill="#0000ff" stroke="#000010" stroke-width="0.75"/>
<circle cx="527.26" cy="125.70" r="2.45" fill="#0000ff" stroke="#000010" stroke-width="0.75"/>
<circle cx="524.52" cy="118.41" r="2.45" fill="#0000ff" stroke="#000010" stroke-width="0.75"/>
<circle cx="521.77" cy="111.18" r="2.45" fill="#0000ff" stroke="#000010" stroke-width="0.75"/>
<circle cx="519.03" cy="103.98" r="2.45" fill="#0000ff" stroke="#000010" stroke-width="0.75"/>
<circle cx="516.29" cy="96.49" r="2.45" fill="#0000ff" stroke="#000010" stroke-width="0.75"/>
<circle cx="513.55" cy="88.49" r="2.45" fill="#0000ff" stroke="#000010" stroke-width="0.75"/>
<circle cx="510.81" cy="80.56" r="2.45" fill="#0000ff" stroke="#000010" stroke-width="0.75"/>
<circle cx="508.06" cy="72.94" r="2.45" fill="#0000ff" stroke="#000010" stroke-width="0.75"/>
<circle cx="505.32" cy="65.55" r="2.45" fill="#0000ff" stroke="#000010" stroke-width="0.75"/>
<circle cx="502.58" cy="58.25" r="2.45" fill="#0000ff" stroke="#000010" stroke-width="0.75"/>
<circle cx="499.84" cy="51.03" r="2.45" fill="#0000ff" stroke="#000010" stroke-width="0.75"/>
<circle cx="497.10" cy="44.72" r="2.45" fill="#0000ff" stroke="#000010" stroke-width="0.75"/>
<circle cx="494.35" cy="39.80" r="2.45" fill="#0000ff" stroke="#000010" stroke-width="0.75"/>
<circle cx="491.61" cy="36.17" r="2.45" fill="#0000ff" stroke="#000010" stroke-width="0.75"/>
<circle cx="488.87" cy="33.46" r="2.45" fill="#0000ff" stroke="#000010" stroke-width="0.75"/>
<circle cx="486.13" cy="31.17" r="2.45" fill="#0000ff" stroke="#000010" stroke-width="0.75"/>
<circle cx="483.39" cy="29.40" r="2.45" fill="#0000ff" stroke="#000010" stroke-width="0.75"/>
<circle cx="480.64" cy="28.45" r="2.45" fill="#0000ff" stroke="#000010" stroke-width="0.75"/>
<circle cx="477.90" cy="28.14" r="2.45" fill="#0000ff" stroke="#000010" stroke-width="0.75"/>
<circle cx="475.16" cy="28.33" r="2.45" fill="#0000ff" stroke="#000010" stroke-width="0.75"/>
<circle cx="472.42" cy="29.19" r="2.45" fill="#0000ff" stroke="#000010" stroke-width="0.75"/>
<circle cx="469.68" cy="30.78" r="2.45" fill="#0000ff" stroke="#000010" stroke-width="0.75"/>
<circle cx="466.93" cy="33.11" r="2.45" fill="#0000ff" stroke="#000010" stroke-width="0.75"/>
<circle cx="464.19" cy="36.40" r="2.45" fill="#0000ff" stroke="#000010" stroke-width="0.75"/>
<circle cx="461.45" cy="40.63" r="2.45" fill="#0000ff" stroke="#000010" stroke-width="0.75"/>
<circle cx="458.71" cy="45.15" r="2.45" fill="#0000ff" stroke="#000010" stroke-width="0.75"/>
<circle cx="455.97" cy="49.64" r="2.45" fill="#0000ff" stroke="#000010" stroke-width="0.75"/>
<circle cx="453.22" cy="54.38" r="2.45" fill="#0000ff" stroke="#000010" stroke-width="0.75"/>
<circle cx="450.48" cy="59.45" r="2.45" fill="#0000ff" stroke="#000010" stroke-width="0.75"/>
<circle cx="447.74" cy="65.03" r="2.45" fill="#0000ff" stroke="#000010" stroke-width="0.75"/>
<circle cx="445.00" cy="71.47" r="2.45" fill="#0000ff" stroke="#000010" stroke-width="0.75"/>
<circle cx="442.26" cy="78.36" r="2.45" fill="#0000ff" stroke="#000010" stroke-width="0.75"/>
<circle cx="439.51" cy="84.80" r="2.45" fill="#0000ff" stroke="#000010" stroke-width="0.75"/>
<circle cx="436.77" cy="90.54" r="2.45" fill="#0000ff" stroke="#000010" stroke-width="0.75"/>
<circle cx="434.03" cy="96.36" r="2.45" fill="#0000ff" stroke="#000010" stroke-width="0.75"/>
<circle cx="431.29" cy="103.29" r="2.45" fill="#0000ff" stroke="#000010" stroke-width="0.75"/>
<circle cx="428.55" cy="111.07" r="2.45" fill="#0000ff" stroke="#000010" stroke-width="0.75"/>
<circle cx="425.80" cy="118.64" r="2.45" fill="#0000ff" stroke="#000010" stroke-width="0.75"/>
<circle cx="423.06" cy="125.83" r="2.45" fill="#0000ff" stroke="#000010" stroke-width="0.75"/>
<circle cx="420.32" cy="132.47" r="2.45" fill="#0000ff" stroke="#000010" stroke-width="0.75"/>
<circle cx="417.58" cy="138.85" r="2.45" fill="#0000ff" stroke="#000010" stroke-width="0.75"/>
<circle cx="414.84" cy="145.45" r="2.45" fill="#0000ff" stroke="#000010" stroke-width="0.75"/>
<circle cx="412.09" cy="151.77" r="2.45" fill="#0000ff" stroke="#000010" stroke-width="0.75"/>
<circle cx="409.35" cy="158.09" r="2.45" fill="#0000ff" stroke="#000010" stroke-width="0.75"/>
<circle cx="406.61" cy="164.63" r="2.45" fill="#0000ff" stroke="#000010" stroke-width="0.75"/>
<circle cx="403.87" cy="171.05" r="2.45" fill="#0000ff" stroke="#000010" stroke-width="0.75"/>
<circle cx="401.13" cy="177.25" r="2.45" fill="#0000ff" stroke="#000010" stroke-width="0.75"/>
<circle cx="398.38" cy="183.58" r="2.45" fill="#0000ff" stroke="#000010" stroke-width="0.75"/>
<circle cx="395.64" cy="190.11" r="2.45" fill="#0000ff" stroke="#000010" stroke-width="0.75"/>
<circle cx="392.90" cy="196.26" r="2.45" fill="#0000ff" stroke="#000010" stroke-width="0.75"/>
</g>
<text x="38.5" y="274.9" text-anchor="end" style="font-family:'Liberation Sans', sans-serif;font-weight:bold;fill:#111;font-size:12px">0</text>
<text x="38.5" y="214.2" text-anchor="end" style="font-family:'Liberation Sans', sans-serif;font-weight:bold;fill:#111;font-size:12px">10</text>
<text x="38.5" y="153.4" text-anchor="end" style="font-family:'Liberation Sans', sans-serif;font-weight:bold;fill:#111;font-size:12px">20</text>
<text x="38.5" y="92.7" text-anchor="end" style="font-family:'Liberation Sans', sans-serif;font-weight:bold;fill:#111;font-size:12px">30</text>
<text x="38.5" y="31.9" text-anchor="end" style="font-family:'Liberation Sans', sans-serif;font-weight:bold;fill:#111;font-size:12px">40</text>
<text x="48.5" y="292" text-anchor="middle" style="font-family:'Liberation Sans', sans-serif;font-weight:bold;fill:#111;font-size:12px">1</text>
<text x="115.2" y="292" text-anchor="middle" style="font-family:'Liberation Sans', sans-serif;font-weight:bold;fill:#111;font-size:12px">10</text>
<text x="182.0" y="292" text-anchor="middle" style="font-family:'Liberation Sans', sans-serif;font-weight:bold;fill:#111;font-size:12px">100</text>
<text x="248.8" y="292" text-anchor="middle" style="font-family:'Liberation Sans', sans-serif;font-weight:bold;fill:#111;font-size:12px">1000</text>
<text x="315.5" y="292" text-anchor="middle" style="font-family:'Liberation Sans', sans-serif;font-weight:bold;fill:#111;font-size:12px">10000</text>
<text x="181.8" y="314.2" text-anchor="middle" style="font-family:'Liberation Sans', sans-serif;font-weight:bold;fill:#111;font-size:12.4px;letter-spacing:0.13px">Frequency (Hz)</text>
<text transform="translate(15,146.6) rotate(-90)" text-anchor="middle" style="font-family:'Liberation Sans', sans-serif;font-weight:bold;fill:#111;font-size:12.4px;letter-spacing:0.17px">Impedance (kohm.cm²)</text>
<text x="59" y="49" style="font-family:'Liberation Sans', sans-serif;font-size:12px;fill:#222">Bode-module</text>
<text x="383" y="280.3" text-anchor="end" style="font-family:'Liberation Sans', sans-serif;font-weight:bold;fill:#111;font-size:12px">0</text>
<text x="383" y="235.4" text-anchor="end" style="font-family:'Liberation Sans', sans-serif;font-weight:bold;fill:#111;font-size:12px">5</text>
<text x="383" y="190.5" text-anchor="end" style="font-family:'Liberation Sans', sans-serif;font-weight:bold;fill:#111;font-size:12px">10</text>
<text x="383" y="145.7" text-anchor="end" style="font-family:'Liberation Sans', sans-serif;font-weight:bold;fill:#111;font-size:12px">15</text>
<text x="383" y="100.8" text-anchor="end" style="font-family:'Liberation Sans', sans-serif;font-weight:bold;fill:#111;font-size:12px">20</text>
<text x="383" y="55.9" text-anchor="end" style="font-family:'Liberation Sans', sans-serif;font-weight:bold;fill:#111;font-size:12px">25</text>
<text x="383" y="11.0" text-anchor="end" style="font-family:'Liberation Sans', sans-serif;font-weight:bold;fill:#111;font-size:12px">30</text>
<text x="392.9" y="298.5" text-anchor="middle" style="font-family:'Liberation Sans', sans-serif;font-weight:bold;fill:#111;font-size:12px">1</text>
<text x="461.4" y="298.5" text-anchor="middle" style="font-family:'Liberation Sans', sans-serif;font-weight:bold;fill:#111;font-size:12px">10</text>
<text x="530.0" y="298.5" text-anchor="middle" style="font-family:'Liberation Sans', sans-serif;font-weight:bold;fill:#111;font-size:12px">100</text>
<text x="598.5" y="298.5" text-anchor="middle" style="font-family:'Liberation Sans', sans-serif;font-weight:bold;fill:#111;font-size:12px">1000</text>
<text x="667.1" y="298.5" text-anchor="middle" style="font-family:'Liberation Sans', sans-serif;font-weight:bold;fill:#111;font-size:12px">10000</text>
<text x="530.1" y="320.7" text-anchor="middle" style="font-family:'Liberation Sans', sans-serif;font-weight:bold;fill:#111;font-size:12.4px;letter-spacing:0.13px">Frequency (Hz)</text>
<text transform="translate(361.4,140.5) rotate(-90)" text-anchor="middle" style="font-family:'Liberation Sans', sans-serif;font-weight:bold;fill:#111;font-size:12.4px">Theta (°)</text>
<text x="405.5" y="24.6" style="font-family:'Liberation Sans', sans-serif;font-size:12.2px;fill:#222">Bode-phase angle</text>
<line x1="156.3" y1="55.5" x2="181" y2="55.5" stroke="#333" stroke-width="1.2"/>
<circle cx="168.6" cy="55.5" r="2.9" fill="#000"/>
<text x="184.4" y="59.8" style="font-family:'Liberation Sans', sans-serif;font-weight:bold;fill:#111;font-size:12.4px">bare Al</text>
<line x1="156.3" y1="75.5" x2="181" y2="75.5" stroke="#3a3a3a" stroke-width="1.2"/>
<circle cx="168.6" cy="75.5" r="2.9" fill="#ff0000"/>
<text x="184.4" y="79.8" style="font-family:'Liberation Sans', sans-serif;font-weight:bold;fill:#111;font-size:12.4px">PANI@0.2Ni-Pc</text>
<line x1="156.3" y1="96" x2="181" y2="96" stroke="#8f8f8f" stroke-width="2" shape-rendering="crispEdges"/>
<circle cx="168.6" cy="95.6" r="3.1" fill="#ff00ff"/>
<text x="184.4" y="99.9" style="font-family:'Liberation Sans', sans-serif;font-weight:bold;fill:#111;font-size:12.4px">PANI@0.4Ni-Pc</text>
<line x1="156.3" y1="115.5" x2="181" y2="115.5" stroke="#2a2a2a" stroke-width="1.2"/>
<circle cx="168.6" cy="115.1" r="2.5" fill="#0000ff" stroke="#000010" stroke-width="0.7"/>
<text x="184.4" y="119.8" style="font-family:'Liberation Sans', sans-serif;font-weight:bold;fill:#111;font-size:12.4px">PANI@0.6Ni-Pc</text>
<line x1="536.2" y1="28" x2="561" y2="28" stroke="#8f8f8f" stroke-width="2" shape-rendering="crispEdges"/>
<circle cx="548.3" cy="27.8" r="2.9" fill="#000"/>
<text x="564" y="32.1" style="font-family:'Liberation Sans', sans-serif;font-weight:bold;fill:#111;font-size:12.4px">bare Al</text>
<line x1="536.2" y1="50.5" x2="561" y2="50.5" stroke="#3a3a3a" stroke-width="1.2"/>
<circle cx="548.3" cy="50.2" r="2.9" fill="#ff0000"/>
<text x="564" y="54.5" style="font-family:'Liberation Sans', sans-serif;font-weight:bold;fill:#111;font-size:12.4px">PANI@0.2Ni-Pc</text>
<line x1="536.2" y1="72" x2="561" y2="72" stroke="#8f8f8f" stroke-width="2" shape-rendering="crispEdges"/>
<circle cx="548.3" cy="72.0" r="3.1" fill="#ff00ff"/>
<text x="564" y="76.3" style="font-family:'Liberation Sans', sans-serif;font-weight:bold;fill:#111;font-size:12.4px">PANI@0.4Ni-Pc</text>
<line x1="536.2" y1="94.5" x2="561" y2="94.5" stroke="#2a2a2a" stroke-width="1.2"/>
<circle cx="548.3" cy="93.7" r="2.5" fill="#0000ff" stroke="#000010" stroke-width="0.7"/>
<text x="564" y="98.4" style="font-family:'Liberation Sans', sans-serif;font-weight:bold;fill:#111;font-size:12.4px">PANI@0.6Ni-Pc</text>
</svg>
</body></html>
